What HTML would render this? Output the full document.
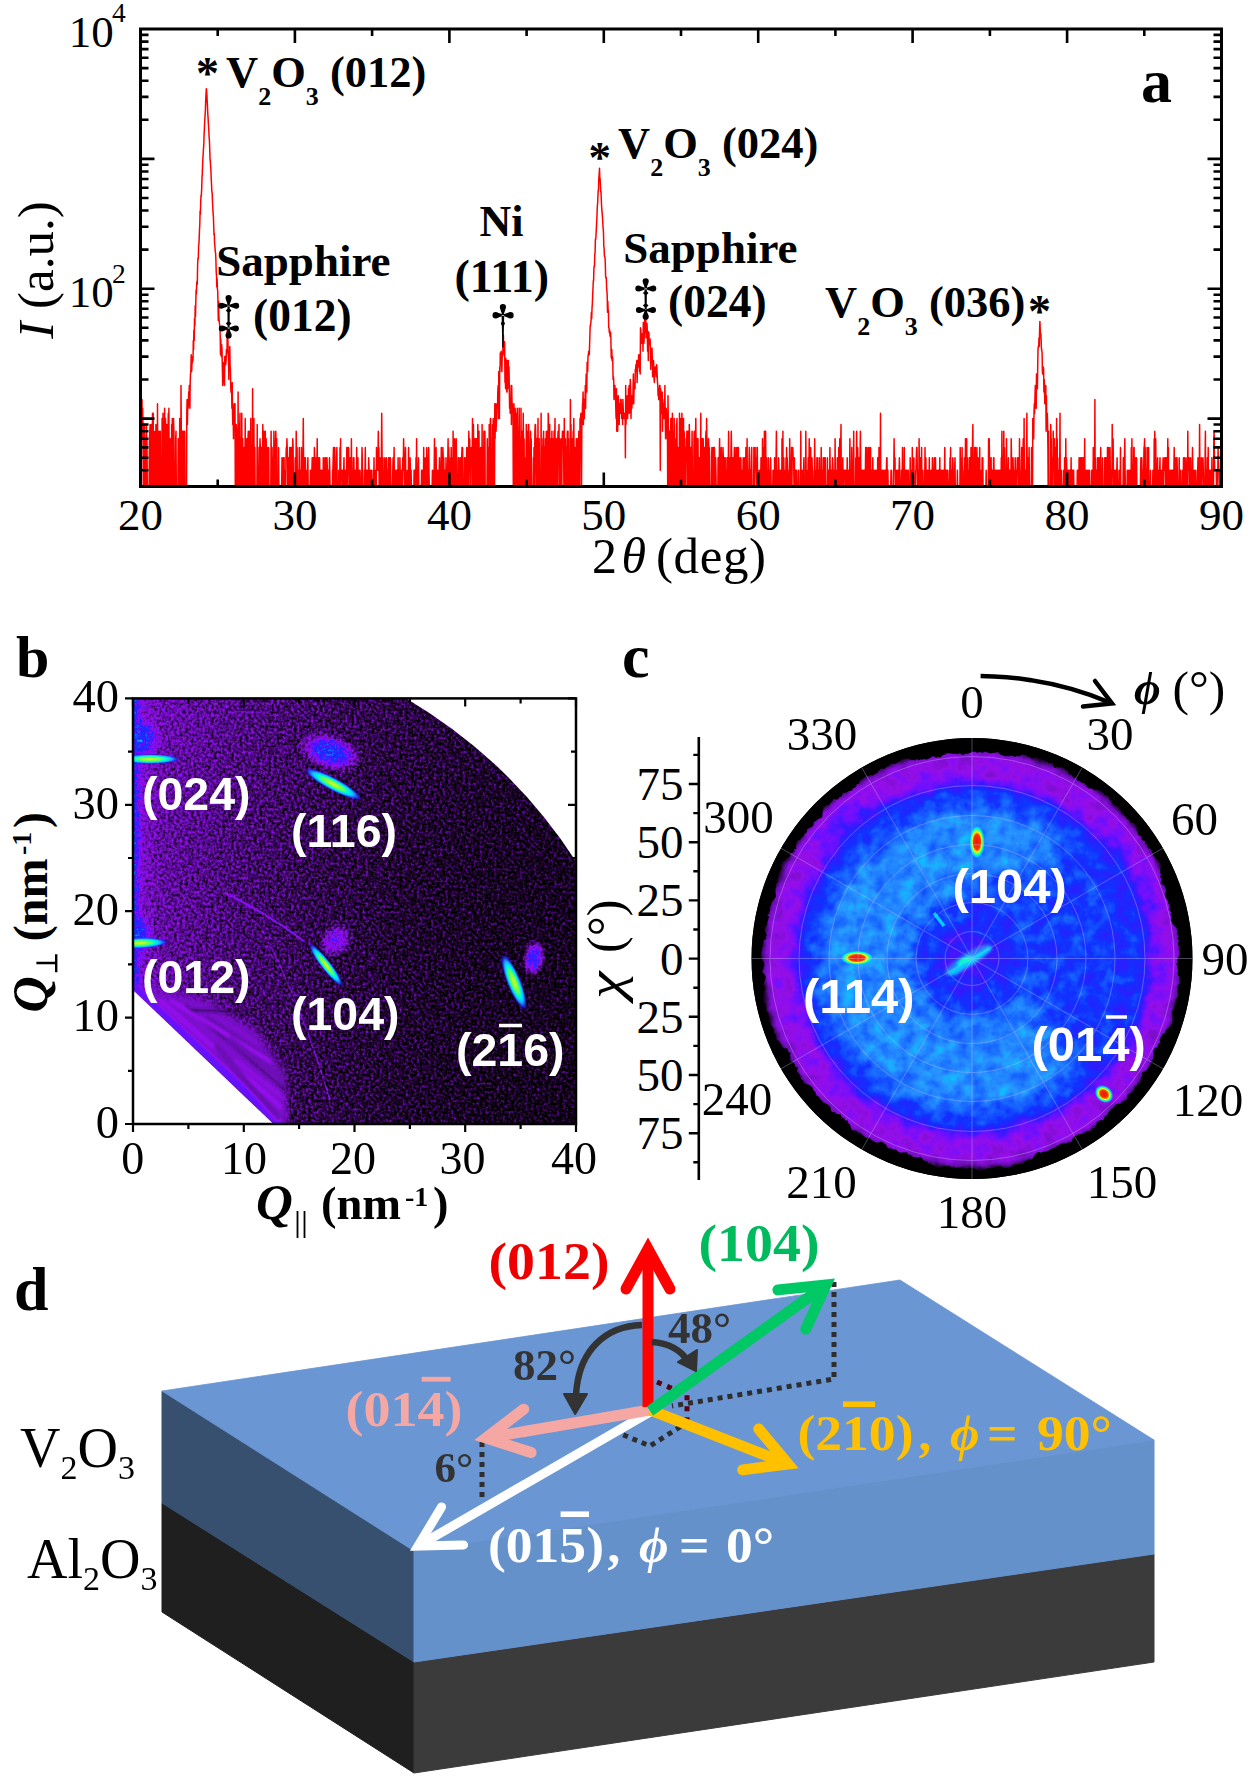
<!DOCTYPE html>
<html><head><meta charset="utf-8"><style>
html,body{margin:0;padding:0;background:#fff;overflow:hidden;width:1250px;height:1781px;}
svg{display:block;}
</style></head><body>
<svg width="1250" height="1781" viewBox="0 0 1250 1781">
<rect width="1250" height="1781" fill="#fff"/>
<defs><clipPath id="ca"><rect x="140.5" y="29.0" width="1081.0" height="457.5"/></clipPath></defs>
<polyline clip-path="url(#ca)" fill="none" stroke="#ff0000" stroke-width="1.5" stroke-linejoin="round" points="140.5,431.2 140.8,491.5 141.1,431.2 141.4,431.2 141.7,438.7 142.0,399.6 142.4,438.7 142.7,408.3 143.0,431.2 143.3,491.5 143.6,491.5 143.9,431.2 144.2,424.5 144.5,424.5 144.8,491.5 145.1,438.7 145.4,491.5 145.8,491.5 146.1,491.5 146.4,424.5 146.7,438.7 147.0,438.7 147.3,491.5 147.6,491.5 147.9,491.5 148.2,491.5 148.5,491.5 148.8,491.5 149.1,491.5 149.5,438.7 149.8,431.2 150.1,424.5 150.4,491.5 150.7,491.5 151.0,491.5 151.3,424.5 151.6,491.5 151.9,424.5 152.2,491.5 152.5,413.2 152.9,491.5 153.2,413.2 153.5,491.5 153.8,431.2 154.1,491.5 154.4,491.5 154.7,491.5 155.0,491.5 155.3,431.2 155.6,491.5 155.9,424.5 156.3,431.2 156.6,491.5 156.9,491.5 157.2,491.5 157.5,403.8 157.8,491.5 158.1,491.5 158.4,491.5 158.7,491.5 159.0,431.2 159.3,491.5 159.6,491.5 160.0,491.5 160.3,431.2 160.6,491.5 160.9,491.5 161.2,491.5 161.5,491.5 161.8,491.5 162.1,418.6 162.4,424.5 162.7,491.5 163.0,413.2 163.4,491.5 163.7,491.5 164.0,438.7 164.3,491.5 164.6,408.3 164.9,491.5 165.2,491.5 165.5,418.6 165.8,438.7 166.1,491.5 166.4,491.5 166.8,424.5 167.1,491.5 167.4,438.7 167.7,491.5 168.0,431.2 168.3,413.2 168.6,438.7 168.9,408.3 169.2,491.5 169.5,491.5 169.8,491.5 170.2,438.7 170.5,491.5 170.8,491.5 171.1,438.7 171.4,491.5 171.7,424.5 172.0,491.5 172.3,418.6 172.6,424.5 172.9,491.5 173.2,438.7 173.5,418.6 173.9,431.2 174.2,491.5 174.5,491.5 174.8,491.5 175.1,491.5 175.4,491.5 175.7,438.7 176.0,431.2 176.3,491.5 176.6,491.5 176.9,491.5 177.3,491.5 177.6,491.5 177.9,491.5 178.2,438.7 178.5,491.5 178.8,438.7 179.1,491.5 179.4,491.5 179.7,418.6 180.0,491.5 180.3,491.5 180.7,491.5 181.0,385.4 181.3,431.2 181.6,491.5 181.9,491.5 182.2,431.2 182.5,431.2 182.8,491.5 183.1,491.5 183.4,491.5 183.7,431.2 184.0,431.2 184.4,491.5 184.7,431.2 185.0,491.5 185.3,491.5 185.6,491.5 185.9,491.5 186.2,491.5 186.5,491.5 186.8,413.2 187.1,399.6 187.4,424.5 187.8,403.8 188.1,408.3 188.4,403.8 188.7,392.1 189.0,399.6 189.3,385.4 189.6,403.8 189.9,408.3 190.2,382.4 190.5,374.1 190.8,371.6 191.2,354.8 191.5,371.6 191.8,369.2 192.1,358.5 192.4,362.6 192.7,356.6 193.0,360.5 193.3,340.4 193.6,349.6 193.9,330.1 194.2,340.4 194.5,318.5 194.9,325.6 195.2,305.7 195.5,316.6 195.8,302.0 196.1,289.9 196.4,294.0 196.7,283.9 197.0,281.3 197.3,284.4 197.6,265.5 197.9,258.5 198.3,258.8 198.6,245.8 198.9,244.0 199.2,238.4 199.5,229.7 199.8,224.6 200.1,211.0 200.4,214.2 200.7,202.1 201.0,195.6 201.3,195.9 201.7,188.6 202.0,177.8 202.3,173.4 202.6,165.3 202.9,158.0 203.2,153.8 203.5,148.4 203.8,144.4 204.1,134.0 204.4,129.0 204.7,121.1 205.1,114.9 205.4,110.1 205.7,100.6 206.0,94.9 206.3,88.7 206.6,90.2 206.9,95.4 207.2,101.6 207.5,107.3 207.8,114.1 208.1,118.2 208.4,124.2 208.8,130.0 209.1,137.1 209.4,140.5 209.7,147.8 210.0,158.3 210.3,160.9 210.6,165.6 210.9,169.9 211.2,177.9 211.5,183.9 211.8,190.6 212.2,193.6 212.5,201.7 212.8,207.9 213.1,213.7 213.4,216.6 213.7,225.5 214.0,234.8 214.3,233.6 214.6,243.5 214.9,246.1 215.2,250.8 215.6,253.4 215.9,259.8 216.2,271.8 216.5,275.3 216.8,287.1 217.1,278.4 217.4,289.3 217.7,290.4 218.0,303.5 218.3,320.4 218.6,301.3 218.9,316.6 219.3,322.4 219.6,324.5 219.9,327.8 220.2,335.0 220.5,354.8 220.8,339.0 221.1,353.0 221.4,356.6 221.7,344.8 222.0,349.6 222.3,364.7 222.7,385.4 223.0,366.9 223.3,362.6 223.6,371.6 223.9,382.4 224.2,379.5 224.5,385.4 224.8,356.6 225.1,360.5 225.4,356.6 225.7,364.7 226.1,360.5 226.4,349.6 226.7,353.0 227.0,351.3 227.3,329.0 227.6,340.4 227.9,339.0 228.2,354.8 228.5,358.5 228.8,379.5 229.1,356.6 229.5,356.6 229.8,346.4 230.1,366.9 230.4,369.2 230.7,385.4 231.0,392.1 231.3,392.1 231.6,388.7 231.9,408.3 232.2,382.4 232.5,413.2 232.8,424.5 233.2,418.6 233.5,438.7 233.8,408.3 234.1,403.8 234.4,418.6 234.7,418.6 235.0,403.8 235.3,491.5 235.6,491.5 235.9,491.5 236.2,424.5 236.6,431.2 236.9,491.5 237.2,431.2 237.5,491.5 237.8,491.5 238.1,392.1 238.4,491.5 238.7,491.5 239.0,491.5 239.3,424.5 239.6,431.2 240.0,413.2 240.3,491.5 240.6,491.5 240.9,438.7 241.2,491.5 241.5,491.5 241.8,413.2 242.1,491.5 242.4,447.4 242.7,438.7 243.0,491.5 243.3,491.5 243.7,491.5 244.0,447.4 244.3,491.5 244.6,491.5 244.9,491.5 245.2,418.6 245.5,491.5 245.8,491.5 246.1,457.7 246.4,491.5 246.7,438.7 247.1,438.7 247.4,491.5 247.7,491.5 248.0,438.7 248.3,431.2 248.6,491.5 248.9,491.5 249.2,491.5 249.5,431.2 249.8,491.5 250.1,491.5 250.5,491.5 250.8,418.6 251.1,491.5 251.4,491.5 251.7,447.4 252.0,491.5 252.3,491.5 252.6,388.7 252.9,491.5 253.2,491.5 253.5,438.7 253.9,418.6 254.2,491.5 254.5,491.5 254.8,447.4 255.1,491.5 255.4,491.5 255.7,491.5 256.0,491.5 256.3,491.5 256.6,491.5 256.9,491.5 257.2,424.5 257.6,491.5 257.9,491.5 258.2,491.5 258.5,491.5 258.8,491.5 259.1,447.4 259.4,491.5 259.7,457.7 260.0,438.7 260.3,447.4 260.6,447.4 261.0,491.5 261.3,447.4 261.6,491.5 261.9,491.5 262.2,447.4 262.5,491.5 262.8,424.5 263.1,447.4 263.4,431.2 263.7,491.5 264.0,431.2 264.4,491.5 264.7,491.5 265.0,438.7 265.3,431.2 265.6,491.5 265.9,491.5 266.2,438.7 266.5,491.5 266.8,491.5 267.1,491.5 267.4,447.4 267.7,457.7 268.1,491.5 268.4,491.5 268.7,447.4 269.0,491.5 269.3,491.5 269.6,491.5 269.9,491.5 270.2,491.5 270.5,491.5 270.8,491.5 271.1,431.2 271.5,491.5 271.8,491.5 272.1,447.4 272.4,491.5 272.7,457.7 273.0,491.5 273.3,457.7 273.6,491.5 273.9,431.2 274.2,447.4 274.5,447.4 274.9,491.5 275.2,447.4 275.5,447.4 275.8,431.2 276.1,447.4 276.4,491.5 276.7,438.7 277.0,491.5 277.3,491.5 277.6,491.5 277.9,491.5 278.3,491.5 278.6,447.4 278.9,491.5 279.2,491.5 279.5,491.5 279.8,491.5 280.1,491.5 280.4,491.5 280.7,491.5 281.0,491.5 281.3,491.5 281.6,491.5 282.0,457.7 282.3,470.3 282.6,491.5 282.9,491.5 283.2,457.7 283.5,491.5 283.8,491.5 284.1,457.7 284.4,491.5 284.7,491.5 285.0,491.5 285.4,470.3 285.7,491.5 286.0,457.7 286.3,447.4 286.6,457.7 286.9,438.7 287.2,447.4 287.5,457.7 287.8,491.5 288.1,491.5 288.4,457.7 288.8,491.5 289.1,491.5 289.4,491.5 289.7,447.4 290.0,470.3 290.3,447.4 290.6,491.5 290.9,491.5 291.2,491.5 291.5,447.4 291.8,491.5 292.1,491.5 292.5,457.7 292.8,438.7 293.1,447.4 293.4,491.5 293.7,491.5 294.0,491.5 294.3,491.5 294.6,491.5 294.9,491.5 295.2,457.7 295.5,491.5 295.9,491.5 296.2,431.2 296.5,457.7 296.8,457.7 297.1,447.4 297.4,491.5 297.7,491.5 298.0,491.5 298.3,491.5 298.6,470.3 298.9,486.5 299.3,447.4 299.6,491.5 299.9,491.5 300.2,470.3 300.5,470.3 300.8,491.5 301.1,491.5 301.4,447.4 301.7,491.5 302.0,491.5 302.3,491.5 302.6,491.5 303.0,447.4 303.3,418.6 303.6,470.3 303.9,470.3 304.2,491.5 304.5,457.7 304.8,470.3 305.1,470.3 305.4,457.7 305.7,491.5 306.0,491.5 306.4,491.5 306.7,491.5 307.0,470.3 307.3,491.5 307.6,470.3 307.9,457.7 308.2,491.5 308.5,491.5 308.8,491.5 309.1,491.5 309.4,491.5 309.8,491.5 310.1,491.5 310.4,470.3 310.7,470.3 311.0,491.5 311.3,470.3 311.6,491.5 311.9,470.3 312.2,457.7 312.5,457.7 312.8,491.5 313.2,491.5 313.5,457.7 313.8,470.3 314.1,491.5 314.4,447.4 314.7,457.7 315.0,457.7 315.3,491.5 315.6,457.7 315.9,491.5 316.2,491.5 316.5,491.5 316.9,470.3 317.2,438.7 317.5,491.5 317.8,491.5 318.1,470.3 318.4,491.5 318.7,457.7 319.0,457.7 319.3,491.5 319.6,457.7 319.9,491.5 320.3,470.3 320.6,470.3 320.9,470.3 321.2,491.5 321.5,470.3 321.8,491.5 322.1,491.5 322.4,470.3 322.7,470.3 323.0,491.5 323.3,457.7 323.7,491.5 324.0,491.5 324.3,491.5 324.6,470.3 324.9,457.7 325.2,491.5 325.5,491.5 325.8,457.7 326.1,491.5 326.4,491.5 326.7,470.3 327.0,457.7 327.4,470.3 327.7,491.5 328.0,491.5 328.3,470.3 328.6,491.5 328.9,491.5 329.2,491.5 329.5,457.7 329.8,470.3 330.1,491.5 330.4,491.5 330.8,491.5 331.1,491.5 331.4,491.5 331.7,491.5 332.0,491.5 332.3,491.5 332.6,470.3 332.9,470.3 333.2,457.7 333.5,447.4 333.8,491.5 334.2,470.3 334.5,491.5 334.8,447.4 335.1,470.3 335.4,491.5 335.7,491.5 336.0,491.5 336.3,491.5 336.6,457.7 336.9,447.4 337.2,491.5 337.6,491.5 337.9,491.5 338.2,491.5 338.5,491.5 338.8,470.3 339.1,470.3 339.4,470.3 339.7,491.5 340.0,447.4 340.3,491.5 340.6,438.7 340.9,491.5 341.3,470.3 341.6,470.3 341.9,470.3 342.2,470.3 342.5,470.3 342.8,491.5 343.1,470.3 343.4,491.5 343.7,470.3 344.0,457.7 344.3,491.5 344.7,470.3 345.0,491.5 345.3,491.5 345.6,470.3 345.9,491.5 346.2,470.3 346.5,491.5 346.8,447.4 347.1,491.5 347.4,470.3 347.7,447.4 348.1,470.3 348.4,470.3 348.7,447.4 349.0,491.5 349.3,470.3 349.6,470.3 349.9,457.7 350.2,457.7 350.5,491.5 350.8,491.5 351.1,491.5 351.4,438.7 351.8,491.5 352.1,470.3 352.4,491.5 352.7,491.5 353.0,491.5 353.3,457.7 353.6,491.5 353.9,457.7 354.2,491.5 354.5,470.3 354.8,491.5 355.2,491.5 355.5,470.3 355.8,491.5 356.1,486.5 356.4,491.5 356.7,447.4 357.0,491.5 357.3,491.5 357.6,491.5 357.9,457.7 358.2,486.5 358.6,491.5 358.9,491.5 359.2,491.5 359.5,470.3 359.8,491.5 360.1,470.3 360.4,491.5 360.7,491.5 361.0,491.5 361.3,491.5 361.6,491.5 362.0,447.4 362.3,457.7 362.6,491.5 362.9,491.5 363.2,491.5 363.5,491.5 363.8,486.5 364.1,491.5 364.4,470.3 364.7,491.5 365.0,470.3 365.3,447.4 365.7,491.5 366.0,470.3 366.3,470.3 366.6,491.5 366.9,470.3 367.2,486.5 367.5,470.3 367.8,486.5 368.1,491.5 368.4,491.5 368.7,457.7 369.1,470.3 369.4,491.5 369.7,491.5 370.0,491.5 370.3,491.5 370.6,470.3 370.9,470.3 371.2,491.5 371.5,470.3 371.8,491.5 372.1,491.5 372.5,491.5 372.8,491.5 373.1,491.5 373.4,470.3 373.7,491.5 374.0,457.7 374.3,491.5 374.6,491.5 374.9,491.5 375.2,491.5 375.5,470.3 375.8,470.3 376.2,491.5 376.5,447.4 376.8,470.3 377.1,470.3 377.4,470.3 377.7,470.3 378.0,457.7 378.3,431.2 378.6,470.3 378.9,447.4 379.2,491.5 379.6,486.5 379.9,457.7 380.2,491.5 380.5,491.5 380.8,491.5 381.1,491.5 381.4,457.7 381.7,413.2 382.0,447.4 382.3,491.5 382.6,491.5 383.0,457.7 383.3,486.5 383.6,491.5 383.9,491.5 384.2,491.5 384.5,491.5 384.8,457.7 385.1,470.3 385.4,491.5 385.7,470.3 386.0,491.5 386.4,457.7 386.7,470.3 387.0,491.5 387.3,470.3 387.6,470.3 387.9,491.5 388.2,491.5 388.5,457.7 388.8,491.5 389.1,491.5 389.4,491.5 389.7,457.7 390.1,491.5 390.4,457.7 390.7,470.3 391.0,491.5 391.3,486.5 391.6,491.5 391.9,491.5 392.2,491.5 392.5,491.5 392.8,470.3 393.1,457.7 393.5,491.5 393.8,470.3 394.1,447.4 394.4,491.5 394.7,491.5 395.0,470.3 395.3,491.5 395.6,491.5 395.9,470.3 396.2,470.3 396.5,491.5 396.9,491.5 397.2,470.3 397.5,491.5 397.8,491.5 398.1,457.7 398.4,491.5 398.7,491.5 399.0,491.5 399.3,470.3 399.6,491.5 399.9,457.7 400.2,470.3 400.6,470.3 400.9,491.5 401.2,491.5 401.5,470.3 401.8,491.5 402.1,470.3 402.4,491.5 402.7,457.7 403.0,470.3 403.3,470.3 403.6,438.7 404.0,457.7 404.3,470.3 404.6,491.5 404.9,491.5 405.2,470.3 405.5,447.4 405.8,491.5 406.1,470.3 406.4,491.5 406.7,491.5 407.0,491.5 407.4,491.5 407.7,470.3 408.0,491.5 408.3,491.5 408.6,447.4 408.9,491.5 409.2,491.5 409.5,491.5 409.8,491.5 410.1,457.7 410.4,470.3 410.7,491.5 411.1,470.3 411.4,491.5 411.7,491.5 412.0,491.5 412.3,491.5 412.6,491.5 412.9,491.5 413.2,491.5 413.5,491.5 413.8,491.5 414.1,470.3 414.5,491.5 414.8,470.3 415.1,470.3 415.4,491.5 415.7,491.5 416.0,457.7 416.3,491.5 416.6,438.7 416.9,491.5 417.2,491.5 417.5,491.5 417.9,470.3 418.2,470.3 418.5,457.7 418.8,491.5 419.1,491.5 419.4,491.5 419.7,491.5 420.0,491.5 420.3,491.5 420.6,491.5 420.9,491.5 421.3,491.5 421.6,470.3 421.9,491.5 422.2,491.5 422.5,470.3 422.8,491.5 423.1,491.5 423.4,491.5 423.7,447.4 424.0,491.5 424.3,470.3 424.6,470.3 425.0,491.5 425.3,457.7 425.6,470.3 425.9,491.5 426.2,491.5 426.5,491.5 426.8,447.4 427.1,491.5 427.4,491.5 427.7,491.5 428.0,470.3 428.4,457.7 428.7,447.4 429.0,470.3 429.3,491.5 429.6,491.5 429.9,491.5 430.2,491.5 430.5,486.5 430.8,491.5 431.1,491.5 431.4,491.5 431.8,491.5 432.1,491.5 432.4,470.3 432.7,491.5 433.0,491.5 433.3,491.5 433.6,491.5 433.9,470.3 434.2,470.3 434.5,438.7 434.8,491.5 435.1,491.5 435.5,457.7 435.8,470.3 436.1,447.4 436.4,491.5 436.7,491.5 437.0,491.5 437.3,491.5 437.6,470.3 437.9,491.5 438.2,491.5 438.5,491.5 438.9,470.3 439.2,470.3 439.5,457.7 439.8,491.5 440.1,491.5 440.4,470.3 440.7,491.5 441.0,470.3 441.3,447.4 441.6,491.5 441.9,457.7 442.3,457.7 442.6,491.5 442.9,447.4 443.2,457.7 443.5,491.5 443.8,457.7 444.1,491.5 444.4,491.5 444.7,470.3 445.0,470.3 445.3,491.5 445.7,491.5 446.0,457.7 446.3,491.5 446.6,470.3 446.9,491.5 447.2,470.3 447.5,470.3 447.8,457.7 448.1,438.7 448.4,491.5 448.7,447.4 449.0,457.7 449.4,491.5 449.7,491.5 450.0,491.5 450.3,491.5 450.6,457.7 450.9,491.5 451.2,447.4 451.5,491.5 451.8,491.5 452.1,491.5 452.4,457.7 452.8,491.5 453.1,431.2 453.4,491.5 453.7,491.5 454.0,491.5 454.3,491.5 454.6,438.7 454.9,457.7 455.2,491.5 455.5,486.5 455.8,457.7 456.2,438.7 456.5,457.7 456.8,491.5 457.1,491.5 457.4,491.5 457.7,491.5 458.0,491.5 458.3,457.7 458.6,491.5 458.9,457.7 459.2,491.5 459.5,491.5 459.9,491.5 460.2,470.3 460.5,457.7 460.8,491.5 461.1,491.5 461.4,491.5 461.7,457.7 462.0,447.4 462.3,491.5 462.6,447.4 462.9,491.5 463.3,491.5 463.6,491.5 463.9,491.5 464.2,491.5 464.5,457.7 464.8,491.5 465.1,457.7 465.4,491.5 465.7,470.3 466.0,491.5 466.3,491.5 466.7,447.4 467.0,457.7 467.3,457.7 467.6,470.3 467.9,491.5 468.2,447.4 468.5,491.5 468.8,431.2 469.1,447.4 469.4,457.7 469.7,438.7 470.1,470.3 470.4,491.5 470.7,491.5 471.0,491.5 471.3,447.4 471.6,457.7 471.9,457.7 472.2,457.7 472.5,418.6 472.8,491.5 473.1,491.5 473.4,424.5 473.8,470.3 474.1,491.5 474.4,438.7 474.7,491.5 475.0,491.5 475.3,491.5 475.6,438.7 475.9,457.7 476.2,491.5 476.5,438.7 476.8,491.5 477.2,457.7 477.5,491.5 477.8,424.5 478.1,491.5 478.4,491.5 478.7,491.5 479.0,431.2 479.3,491.5 479.6,491.5 479.9,491.5 480.2,491.5 480.6,447.4 480.9,491.5 481.2,457.7 481.5,491.5 481.8,491.5 482.1,424.5 482.4,491.5 482.7,447.4 483.0,447.4 483.3,447.4 483.6,491.5 483.9,431.2 484.3,431.2 484.6,491.5 484.9,431.2 485.2,491.5 485.5,491.5 485.8,491.5 486.1,491.5 486.4,491.5 486.7,491.5 487.0,491.5 487.3,438.7 487.7,491.5 488.0,491.5 488.3,491.5 488.6,447.4 488.9,491.5 489.2,424.5 489.5,438.7 489.8,491.5 490.1,491.5 490.4,418.6 490.7,418.6 491.1,491.5 491.4,491.5 491.7,491.5 492.0,491.5 492.3,457.7 492.6,424.5 492.9,491.5 493.2,418.6 493.5,491.5 493.8,438.7 494.1,491.5 494.5,491.5 494.8,403.8 495.1,438.7 495.4,403.8 495.7,413.2 496.0,431.2 496.3,424.5 496.6,418.6 496.9,403.8 497.2,403.8 497.5,408.3 497.8,392.1 498.2,385.4 498.5,418.6 498.8,371.6 499.1,413.2 499.4,418.6 499.7,366.9 500.0,371.6 500.3,353.0 500.6,358.5 500.9,358.5 501.2,351.3 501.6,362.6 501.9,371.6 502.2,354.8 502.5,356.6 502.8,353.0 503.1,337.7 503.4,335.0 503.7,351.3 504.0,351.3 504.3,354.8 504.6,341.8 505.0,382.4 505.3,376.8 505.6,388.7 505.9,358.5 506.2,369.2 506.5,374.1 506.8,392.1 507.1,392.1 507.4,360.5 507.7,388.7 508.0,376.8 508.3,360.5 508.7,374.1 509.0,366.9 509.3,388.7 509.6,408.3 509.9,403.8 510.2,413.2 510.5,399.6 510.8,413.2 511.1,385.4 511.4,424.5 511.7,385.4 512.1,408.3 512.4,403.8 512.7,408.3 513.0,413.2 513.3,491.5 513.6,424.5 513.9,403.8 514.2,491.5 514.5,491.5 514.8,491.5 515.1,408.3 515.5,418.6 515.8,491.5 516.1,413.2 516.4,438.7 516.7,491.5 517.0,491.5 517.3,408.3 517.6,491.5 517.9,491.5 518.2,491.5 518.5,491.5 518.8,438.7 519.2,408.3 519.5,491.5 519.8,491.5 520.1,438.7 520.4,491.5 520.7,491.5 521.0,408.3 521.3,491.5 521.6,431.2 521.9,431.2 522.2,491.5 522.6,491.5 522.9,491.5 523.2,413.2 523.5,438.7 523.8,491.5 524.1,438.7 524.4,491.5 524.7,457.7 525.0,491.5 525.3,491.5 525.6,491.5 526.0,491.5 526.3,424.5 526.6,424.5 526.9,447.4 527.2,491.5 527.5,491.5 527.8,491.5 528.1,431.2 528.4,491.5 528.7,424.5 529.0,491.5 529.4,491.5 529.7,491.5 530.0,491.5 530.3,447.4 530.6,431.2 530.9,491.5 531.2,438.7 531.5,491.5 531.8,491.5 532.1,491.5 532.4,491.5 532.7,491.5 533.1,491.5 533.4,457.7 533.7,491.5 534.0,447.4 534.3,491.5 534.6,457.7 534.9,431.2 535.2,424.5 535.5,424.5 535.8,438.7 536.1,491.5 536.5,457.7 536.8,438.7 537.1,491.5 537.4,491.5 537.7,491.5 538.0,418.6 538.3,491.5 538.6,491.5 538.9,438.7 539.2,438.7 539.5,491.5 539.9,491.5 540.2,491.5 540.5,491.5 540.8,491.5 541.1,413.2 541.4,491.5 541.7,491.5 542.0,447.4 542.3,491.5 542.6,491.5 542.9,438.7 543.2,447.4 543.6,431.2 543.9,491.5 544.2,491.5 544.5,447.4 544.8,491.5 545.1,491.5 545.4,438.7 545.7,438.7 546.0,457.7 546.3,431.2 546.6,491.5 547.0,491.5 547.3,447.4 547.6,431.2 547.9,491.5 548.2,413.2 548.5,418.6 548.8,491.5 549.1,424.5 549.4,491.5 549.7,424.5 550.0,491.5 550.4,447.4 550.7,491.5 551.0,438.7 551.3,491.5 551.6,491.5 551.9,431.2 552.2,491.5 552.5,438.7 552.8,447.4 553.1,438.7 553.4,438.7 553.8,491.5 554.1,431.2 554.4,447.4 554.7,447.4 555.0,418.6 555.3,491.5 555.6,491.5 555.9,486.5 556.2,491.5 556.5,438.7 556.8,491.5 557.1,491.5 557.5,491.5 557.8,438.7 558.1,431.2 558.4,431.2 558.7,438.7 559.0,424.5 559.3,491.5 559.6,491.5 559.9,438.7 560.2,491.5 560.5,491.5 560.9,491.5 561.2,447.4 561.5,438.7 561.8,491.5 562.1,447.4 562.4,431.2 562.7,447.4 563.0,438.7 563.3,431.2 563.6,438.7 563.9,491.5 564.3,418.6 564.6,491.5 564.9,491.5 565.2,491.5 565.5,438.7 565.8,491.5 566.1,447.4 566.4,447.4 566.7,491.5 567.0,491.5 567.3,431.2 567.6,491.5 568.0,431.2 568.3,491.5 568.6,438.7 568.9,491.5 569.2,457.7 569.5,491.5 569.8,491.5 570.1,491.5 570.4,399.6 570.7,491.5 571.0,424.5 571.4,491.5 571.7,438.7 572.0,447.4 572.3,438.7 572.6,491.5 572.9,491.5 573.2,431.2 573.5,438.7 573.8,418.6 574.1,457.7 574.4,491.5 574.8,491.5 575.1,447.4 575.4,457.7 575.7,491.5 576.0,491.5 576.3,438.7 576.6,491.5 576.9,491.5 577.2,491.5 577.5,438.7 577.8,491.5 578.2,447.4 578.5,491.5 578.8,431.2 579.1,491.5 579.4,491.5 579.7,491.5 580.0,418.6 580.3,438.7 580.6,418.6 580.9,413.2 581.2,424.5 581.5,491.5 581.9,413.2 582.2,424.5 582.5,403.8 582.8,403.8 583.1,392.1 583.4,424.5 583.7,403.8 584.0,399.6 584.3,418.6 584.6,403.8 584.9,408.3 585.3,385.4 585.6,408.3 585.9,385.4 586.2,374.1 586.5,374.1 586.8,392.1 587.1,362.6 587.4,364.7 587.7,371.6 588.0,356.6 588.3,354.8 588.7,351.3 589.0,351.3 589.3,354.8 589.6,344.8 589.9,335.0 590.2,325.6 590.5,325.6 590.8,323.5 591.1,319.5 591.4,312.2 591.7,318.5 592.0,308.8 592.4,302.7 592.7,294.0 593.0,288.2 593.3,280.8 593.6,280.8 593.9,268.6 594.2,265.9 594.5,266.2 594.8,253.7 595.1,252.8 595.4,238.9 595.8,239.1 596.1,233.3 596.4,227.3 596.7,221.7 597.0,215.4 597.3,205.9 597.6,204.2 597.9,196.6 598.2,190.6 598.5,189.5 598.8,178.6 599.2,174.1 599.5,168.3 599.8,176.9 600.1,178.9 600.4,184.7 600.7,192.0 601.0,191.5 601.3,199.7 601.6,206.3 601.9,210.7 602.2,213.6 602.6,218.9 602.9,225.3 603.2,228.7 603.5,232.9 603.8,246.6 604.1,248.2 604.4,256.2 604.7,256.8 605.0,257.2 605.3,263.3 605.6,276.1 605.9,278.0 606.3,277.5 606.6,287.1 606.9,291.0 607.2,295.3 607.5,312.2 607.8,301.3 608.1,309.7 608.4,310.5 608.7,327.8 609.0,327.8 609.3,332.5 609.7,330.1 610.0,336.3 610.3,336.3 610.6,332.5 610.9,339.0 611.2,356.6 611.5,358.5 611.8,349.6 612.1,360.5 612.4,356.6 612.7,358.5 613.1,379.5 613.4,376.8 613.7,379.5 614.0,399.6 614.3,395.7 614.6,392.1 614.9,385.4 615.2,395.7 615.5,388.7 615.8,408.3 616.1,418.6 616.4,388.7 616.8,431.2 617.1,408.3 617.4,399.6 617.7,431.2 618.0,395.7 618.3,395.7 618.6,418.6 618.9,403.8 619.2,424.5 619.5,403.8 619.8,408.3 620.2,413.2 620.5,399.6 620.8,413.2 621.1,399.6 621.4,408.3 621.7,418.6 622.0,413.2 622.3,408.3 622.6,424.5 622.9,399.6 623.2,408.3 623.6,418.6 623.9,418.6 624.2,413.2 624.5,418.6 624.8,418.6 625.1,413.2 625.4,457.7 625.7,385.4 626.0,424.5 626.3,413.2 626.6,418.6 626.9,413.2 627.3,395.7 627.6,418.6 627.9,408.3 628.2,413.2 628.5,388.7 628.8,399.6 629.1,385.4 629.4,413.2 629.7,388.7 630.0,399.6 630.3,379.5 630.7,392.1 631.0,418.6 631.3,403.8 631.6,395.7 631.9,408.3 632.2,395.7 632.5,395.7 632.8,403.8 633.1,385.4 633.4,374.1 633.7,403.8 634.1,385.4 634.4,388.7 634.7,382.4 635.0,388.7 635.3,369.2 635.6,371.6 635.9,364.7 636.2,371.6 636.5,364.7 636.8,360.5 637.1,382.4 637.5,366.9 637.8,360.5 638.1,366.9 638.4,360.5 638.7,354.8 639.0,362.6 639.3,358.5 639.6,371.6 639.9,354.8 640.2,374.1 640.5,327.8 640.8,330.1 641.2,336.3 641.5,343.3 641.8,343.3 642.1,335.0 642.4,333.8 642.7,335.0 643.0,351.3 643.3,322.4 643.6,333.8 643.9,343.3 644.2,337.7 644.6,322.4 644.9,314.8 645.2,332.5 645.5,312.2 645.8,314.8 646.1,337.7 646.4,332.5 646.7,325.6 647.0,323.5 647.3,331.3 647.6,351.3 648.0,331.3 648.3,360.5 648.6,336.3 648.9,332.5 649.2,344.8 649.5,340.4 649.8,343.3 650.1,339.0 650.4,349.6 650.7,369.2 651.0,356.6 651.3,360.5 651.7,353.0 652.0,347.9 652.3,358.5 652.6,376.8 652.9,374.1 653.2,369.2 653.5,360.5 653.8,366.9 654.1,379.5 654.4,382.4 654.7,369.2 655.1,369.2 655.4,366.9 655.7,366.9 656.0,371.6 656.3,376.8 656.6,364.7 656.9,366.9 657.2,376.8 657.5,382.4 657.8,385.4 658.1,395.7 658.5,395.7 658.8,399.6 659.1,388.7 659.4,388.7 659.7,385.4 660.0,385.4 660.3,470.3 660.6,388.7 660.9,392.1 661.2,399.6 661.5,413.2 661.9,403.8 662.2,392.1 662.5,431.2 662.8,399.6 663.1,408.3 663.4,418.6 663.7,403.8 664.0,408.3 664.3,408.3 664.6,418.6 664.9,385.4 665.2,418.6 665.6,438.7 665.9,438.7 666.2,408.3 666.5,413.2 666.8,418.6 667.1,424.5 667.4,413.2 667.7,491.5 668.0,395.7 668.3,424.5 668.6,431.2 669.0,491.5 669.3,491.5 669.6,491.5 669.9,431.2 670.2,491.5 670.5,491.5 670.8,418.6 671.1,424.5 671.4,418.6 671.7,491.5 672.0,491.5 672.4,413.2 672.7,491.5 673.0,491.5 673.3,491.5 673.6,431.2 673.9,491.5 674.2,418.6 674.5,491.5 674.8,438.7 675.1,491.5 675.4,491.5 675.7,491.5 676.1,491.5 676.4,424.5 676.7,424.5 677.0,418.6 677.3,491.5 677.6,491.5 677.9,447.4 678.2,491.5 678.5,491.5 678.8,447.4 679.1,491.5 679.5,413.2 679.8,491.5 680.1,431.2 680.4,491.5 680.7,418.6 681.0,491.5 681.3,431.2 681.6,491.5 681.9,413.2 682.2,431.2 682.5,491.5 682.9,491.5 683.2,491.5 683.5,418.6 683.8,491.5 684.1,431.2 684.4,438.7 684.7,491.5 685.0,491.5 685.3,447.4 685.6,447.4 685.9,491.5 686.3,438.7 686.6,447.4 686.9,431.2 687.2,447.4 687.5,431.2 687.8,491.5 688.1,438.7 688.4,431.2 688.7,438.7 689.0,491.5 689.3,424.5 689.6,438.7 690.0,491.5 690.3,491.5 690.6,447.4 690.9,491.5 691.2,457.7 691.5,491.5 691.8,457.7 692.1,431.2 692.4,491.5 692.7,491.5 693.0,491.5 693.4,491.5 693.7,491.5 694.0,438.7 694.3,431.2 694.6,438.7 694.9,491.5 695.2,491.5 695.5,438.7 695.8,418.6 696.1,447.4 696.4,447.4 696.8,491.5 697.1,438.7 697.4,491.5 697.7,438.7 698.0,438.7 698.3,491.5 698.6,491.5 698.9,491.5 699.2,491.5 699.5,457.7 699.8,491.5 700.1,491.5 700.5,457.7 700.8,413.2 701.1,491.5 701.4,491.5 701.7,438.7 702.0,457.7 702.3,438.7 702.6,491.5 702.9,438.7 703.2,438.7 703.5,491.5 703.9,491.5 704.2,447.4 704.5,447.4 704.8,491.5 705.1,491.5 705.4,491.5 705.7,438.7 706.0,431.2 706.3,491.5 706.6,418.6 706.9,438.7 707.3,491.5 707.6,491.5 707.9,491.5 708.2,457.7 708.5,438.7 708.8,447.4 709.1,491.5 709.4,447.4 709.7,491.5 710.0,491.5 710.3,491.5 710.7,491.5 711.0,491.5 711.3,491.5 711.6,457.7 711.9,447.4 712.2,491.5 712.5,491.5 712.8,491.5 713.1,447.4 713.4,491.5 713.7,491.5 714.0,447.4 714.4,447.4 714.7,457.7 715.0,491.5 715.3,491.5 715.6,457.7 715.9,470.3 716.2,491.5 716.5,491.5 716.8,491.5 717.1,491.5 717.4,491.5 717.8,491.5 718.1,457.7 718.4,491.5 718.7,491.5 719.0,491.5 719.3,457.7 719.6,438.7 719.9,491.5 720.2,457.7 720.5,491.5 720.8,491.5 721.2,447.4 721.5,491.5 721.8,491.5 722.1,491.5 722.4,491.5 722.7,457.7 723.0,447.4 723.3,457.7 723.6,457.7 723.9,491.5 724.2,457.7 724.5,470.3 724.9,457.7 725.2,457.7 725.5,491.5 725.8,470.3 726.1,491.5 726.4,491.5 726.7,491.5 727.0,457.7 727.3,457.7 727.6,491.5 727.9,491.5 728.3,470.3 728.6,431.2 728.9,491.5 729.2,491.5 729.5,491.5 729.8,491.5 730.1,457.7 730.4,491.5 730.7,491.5 731.0,447.4 731.3,431.2 731.7,457.7 732.0,457.7 732.3,491.5 732.6,457.7 732.9,486.5 733.2,491.5 733.5,457.7 733.8,470.3 734.1,457.7 734.4,447.4 734.7,491.5 735.0,491.5 735.4,470.3 735.7,491.5 736.0,447.4 736.3,470.3 736.6,470.3 736.9,457.7 737.2,491.5 737.5,447.4 737.8,457.7 738.1,491.5 738.4,447.4 738.8,491.5 739.1,491.5 739.4,491.5 739.7,470.3 740.0,457.7 740.3,491.5 740.6,457.7 740.9,457.7 741.2,491.5 741.5,491.5 741.8,470.3 742.2,491.5 742.5,491.5 742.8,491.5 743.1,457.7 743.4,491.5 743.7,491.5 744.0,470.3 744.3,486.5 744.6,457.7 744.9,491.5 745.2,491.5 745.6,491.5 745.9,447.4 746.2,491.5 746.5,486.5 746.8,491.5 747.1,438.7 747.4,491.5 747.7,491.5 748.0,491.5 748.3,470.3 748.6,491.5 748.9,470.3 749.3,447.4 749.6,457.7 749.9,491.5 750.2,491.5 750.5,470.3 750.8,491.5 751.1,491.5 751.4,470.3 751.7,447.4 752.0,491.5 752.3,491.5 752.7,491.5 753.0,491.5 753.3,491.5 753.6,491.5 753.9,447.4 754.2,491.5 754.5,491.5 754.8,470.3 755.1,447.4 755.4,470.3 755.7,457.7 756.1,470.3 756.4,470.3 756.7,491.5 757.0,447.4 757.3,447.4 757.6,491.5 757.9,491.5 758.2,491.5 758.5,491.5 758.8,491.5 759.1,470.3 759.4,491.5 759.8,491.5 760.1,470.3 760.4,491.5 760.7,491.5 761.0,457.7 761.3,470.3 761.6,491.5 761.9,470.3 762.2,491.5 762.5,438.7 762.8,491.5 763.2,447.4 763.5,470.3 763.8,491.5 764.1,491.5 764.4,431.2 764.7,470.3 765.0,491.5 765.3,491.5 765.6,431.2 765.9,470.3 766.2,491.5 766.6,457.7 766.9,491.5 767.2,470.3 767.5,491.5 767.8,470.3 768.1,491.5 768.4,457.7 768.7,491.5 769.0,491.5 769.3,491.5 769.6,470.3 770.0,491.5 770.3,470.3 770.6,457.7 770.9,470.3 771.2,491.5 771.5,491.5 771.8,491.5 772.1,491.5 772.4,491.5 772.7,491.5 773.0,470.3 773.3,491.5 773.7,491.5 774.0,491.5 774.3,491.5 774.6,457.7 774.9,491.5 775.2,491.5 775.5,491.5 775.8,491.5 776.1,457.7 776.4,431.2 776.7,470.3 777.1,470.3 777.4,491.5 777.7,491.5 778.0,491.5 778.3,491.5 778.6,457.7 778.9,470.3 779.2,470.3 779.5,491.5 779.8,491.5 780.1,470.3 780.5,470.3 780.8,470.3 781.1,491.5 781.4,491.5 781.7,491.5 782.0,438.7 782.3,457.7 782.6,491.5 782.9,431.2 783.2,491.5 783.5,457.7 783.8,457.7 784.2,491.5 784.5,470.3 784.8,491.5 785.1,491.5 785.4,491.5 785.7,491.5 786.0,457.7 786.3,491.5 786.6,447.4 786.9,491.5 787.2,457.7 787.6,470.3 787.9,470.3 788.2,491.5 788.5,491.5 788.8,491.5 789.1,491.5 789.4,486.5 789.7,438.7 790.0,470.3 790.3,491.5 790.6,491.5 791.0,470.3 791.3,470.3 791.6,447.4 791.9,491.5 792.2,457.7 792.5,447.4 792.8,447.4 793.1,457.7 793.4,457.7 793.7,457.7 794.0,491.5 794.4,457.7 794.7,491.5 795.0,491.5 795.3,470.3 795.6,470.3 795.9,491.5 796.2,470.3 796.5,470.3 796.8,491.5 797.1,491.5 797.4,491.5 797.7,491.5 798.1,491.5 798.4,470.3 798.7,470.3 799.0,491.5 799.3,491.5 799.6,491.5 799.9,491.5 800.2,491.5 800.5,491.5 800.8,431.2 801.1,491.5 801.5,470.3 801.8,470.3 802.1,491.5 802.4,491.5 802.7,491.5 803.0,470.3 803.3,491.5 803.6,470.3 803.9,457.7 804.2,491.5 804.5,491.5 804.9,491.5 805.2,491.5 805.5,491.5 805.8,431.2 806.1,470.3 806.4,491.5 806.7,491.5 807.0,491.5 807.3,491.5 807.6,470.3 807.9,491.5 808.2,457.7 808.6,491.5 808.9,470.3 809.2,438.7 809.5,491.5 809.8,491.5 810.1,491.5 810.4,491.5 810.7,447.4 811.0,491.5 811.3,491.5 811.6,491.5 812.0,457.7 812.3,470.3 812.6,470.3 812.9,491.5 813.2,491.5 813.5,491.5 813.8,491.5 814.1,491.5 814.4,470.3 814.7,438.7 815.0,470.3 815.4,491.5 815.7,491.5 816.0,470.3 816.3,491.5 816.6,491.5 816.9,457.7 817.2,491.5 817.5,457.7 817.8,491.5 818.1,470.3 818.4,470.3 818.8,491.5 819.1,491.5 819.4,457.7 819.7,491.5 820.0,491.5 820.3,470.3 820.6,491.5 820.9,491.5 821.2,447.4 821.5,470.3 821.8,457.7 822.1,491.5 822.5,470.3 822.8,491.5 823.1,491.5 823.4,491.5 823.7,457.7 824.0,457.7 824.3,457.7 824.6,491.5 824.9,491.5 825.2,457.7 825.5,491.5 825.9,491.5 826.2,491.5 826.5,491.5 826.8,491.5 827.1,491.5 827.4,457.7 827.7,491.5 828.0,491.5 828.3,491.5 828.6,470.3 828.9,470.3 829.3,470.3 829.6,491.5 829.9,447.4 830.2,470.3 830.5,470.3 830.8,491.5 831.1,491.5 831.4,470.3 831.7,491.5 832.0,486.5 832.3,470.3 832.6,457.7 833.0,470.3 833.3,491.5 833.6,491.5 833.9,491.5 834.2,491.5 834.5,470.3 834.8,491.5 835.1,438.7 835.4,491.5 835.7,470.3 836.0,470.3 836.4,491.5 836.7,491.5 837.0,491.5 837.3,457.7 837.6,470.3 837.9,470.3 838.2,491.5 838.5,470.3 838.8,447.4 839.1,491.5 839.4,491.5 839.8,438.7 840.1,470.3 840.4,491.5 840.7,447.4 841.0,424.5 841.3,486.5 841.6,491.5 841.9,470.3 842.2,491.5 842.5,491.5 842.8,457.7 843.1,491.5 843.5,470.3 843.8,470.3 844.1,470.3 844.4,470.3 844.7,470.3 845.0,491.5 845.3,470.3 845.6,491.5 845.9,491.5 846.2,491.5 846.5,470.3 846.9,491.5 847.2,457.7 847.5,491.5 847.8,491.5 848.1,491.5 848.4,491.5 848.7,470.3 849.0,491.5 849.3,491.5 849.6,470.3 849.9,438.7 850.3,491.5 850.6,470.3 850.9,470.3 851.2,491.5 851.5,491.5 851.8,447.4 852.1,470.3 852.4,470.3 852.7,470.3 853.0,491.5 853.3,491.5 853.7,431.2 854.0,491.5 854.3,491.5 854.6,491.5 854.9,491.5 855.2,491.5 855.5,491.5 855.8,457.7 856.1,470.3 856.4,470.3 856.7,431.2 857.0,491.5 857.4,491.5 857.7,447.4 858.0,470.3 858.3,491.5 858.6,491.5 858.9,491.5 859.2,457.7 859.5,491.5 859.8,491.5 860.1,457.7 860.4,431.2 860.8,470.3 861.1,491.5 861.4,491.5 861.7,470.3 862.0,491.5 862.3,470.3 862.6,491.5 862.9,491.5 863.2,470.3 863.5,491.5 863.8,491.5 864.2,491.5 864.5,470.3 864.8,491.5 865.1,491.5 865.4,470.3 865.7,447.4 866.0,491.5 866.3,491.5 866.6,447.4 866.9,491.5 867.2,491.5 867.5,491.5 867.9,491.5 868.2,447.4 868.5,470.3 868.8,491.5 869.1,447.4 869.4,491.5 869.7,491.5 870.0,470.3 870.3,491.5 870.6,447.4 870.9,491.5 871.3,491.5 871.6,470.3 871.9,491.5 872.2,491.5 872.5,491.5 872.8,457.7 873.1,491.5 873.4,470.3 873.7,491.5 874.0,470.3 874.3,491.5 874.7,491.5 875.0,491.5 875.3,470.3 875.6,491.5 875.9,491.5 876.2,470.3 876.5,491.5 876.8,491.5 877.1,491.5 877.4,491.5 877.7,457.7 878.1,491.5 878.4,491.5 878.7,491.5 879.0,447.4 879.3,491.5 879.6,470.3 879.9,491.5 880.2,491.5 880.5,413.2 880.8,491.5 881.1,491.5 881.4,491.5 881.8,470.3 882.1,470.3 882.4,470.3 882.7,491.5 883.0,491.5 883.3,470.3 883.6,491.5 883.9,491.5 884.2,486.5 884.5,491.5 884.8,470.3 885.2,491.5 885.5,470.3 885.8,491.5 886.1,470.3 886.4,470.3 886.7,457.7 887.0,457.7 887.3,491.5 887.6,491.5 887.9,470.3 888.2,491.5 888.6,491.5 888.9,491.5 889.2,491.5 889.5,491.5 889.8,491.5 890.1,491.5 890.4,491.5 890.7,491.5 891.0,470.3 891.3,470.3 891.6,491.5 891.9,491.5 892.3,491.5 892.6,491.5 892.9,491.5 893.2,491.5 893.5,470.3 893.8,470.3 894.1,438.7 894.4,470.3 894.7,470.3 895.0,457.7 895.3,491.5 895.7,491.5 896.0,491.5 896.3,491.5 896.6,470.3 896.9,470.3 897.2,491.5 897.5,491.5 897.8,491.5 898.1,470.3 898.4,470.3 898.7,491.5 899.1,470.3 899.4,457.7 899.7,470.3 900.0,491.5 900.3,491.5 900.6,491.5 900.9,491.5 901.2,491.5 901.5,470.3 901.8,491.5 902.1,491.5 902.5,447.4 902.8,491.5 903.1,491.5 903.4,470.3 903.7,491.5 904.0,491.5 904.3,447.4 904.6,491.5 904.9,491.5 905.2,470.3 905.5,491.5 905.8,470.3 906.2,491.5 906.5,470.3 906.8,491.5 907.1,491.5 907.4,491.5 907.7,470.3 908.0,491.5 908.3,470.3 908.6,491.5 908.9,491.5 909.2,491.5 909.6,491.5 909.9,491.5 910.2,457.7 910.5,491.5 910.8,470.3 911.1,470.3 911.4,491.5 911.7,491.5 912.0,491.5 912.3,447.4 912.6,491.5 913.0,470.3 913.3,491.5 913.6,491.5 913.9,457.7 914.2,491.5 914.5,491.5 914.8,491.5 915.1,491.5 915.4,491.5 915.7,470.3 916.0,470.3 916.3,457.7 916.7,447.4 917.0,447.4 917.3,470.3 917.6,491.5 917.9,470.3 918.2,491.5 918.5,491.5 918.8,491.5 919.1,438.7 919.4,470.3 919.7,491.5 920.1,457.7 920.4,457.7 920.7,491.5 921.0,491.5 921.3,491.5 921.6,447.4 921.9,491.5 922.2,491.5 922.5,470.3 922.8,491.5 923.1,491.5 923.5,491.5 923.8,491.5 924.1,491.5 924.4,470.3 924.7,491.5 925.0,447.4 925.3,491.5 925.6,491.5 925.9,457.7 926.2,491.5 926.5,491.5 926.9,491.5 927.2,470.3 927.5,470.3 927.8,491.5 928.1,486.5 928.4,491.5 928.7,470.3 929.0,491.5 929.3,457.7 929.6,491.5 929.9,470.3 930.2,491.5 930.6,491.5 930.9,491.5 931.2,470.3 931.5,491.5 931.8,470.3 932.1,491.5 932.4,457.7 932.7,470.3 933.0,491.5 933.3,470.3 933.6,486.5 934.0,491.5 934.3,457.7 934.6,470.3 934.9,491.5 935.2,491.5 935.5,457.7 935.8,491.5 936.1,491.5 936.4,491.5 936.7,470.3 937.0,491.5 937.4,491.5 937.7,491.5 938.0,470.3 938.3,470.3 938.6,470.3 938.9,470.3 939.2,491.5 939.5,491.5 939.8,457.7 940.1,491.5 940.4,491.5 940.7,470.3 941.1,470.3 941.4,486.5 941.7,491.5 942.0,470.3 942.3,491.5 942.6,491.5 942.9,491.5 943.2,491.5 943.5,470.3 943.8,491.5 944.1,491.5 944.5,470.3 944.8,447.4 945.1,491.5 945.4,491.5 945.7,470.3 946.0,470.3 946.3,470.3 946.6,491.5 946.9,491.5 947.2,470.3 947.5,470.3 947.9,491.5 948.2,491.5 948.5,491.5 948.8,491.5 949.1,491.5 949.4,470.3 949.7,491.5 950.0,457.7 950.3,491.5 950.6,447.4 950.9,491.5 951.2,491.5 951.6,470.3 951.9,491.5 952.2,491.5 952.5,470.3 952.8,457.7 953.1,470.3 953.4,491.5 953.7,470.3 954.0,470.3 954.3,491.5 954.6,470.3 955.0,457.7 955.3,491.5 955.6,491.5 955.9,491.5 956.2,491.5 956.5,491.5 956.8,491.5 957.1,491.5 957.4,470.3 957.7,491.5 958.0,491.5 958.4,491.5 958.7,491.5 959.0,491.5 959.3,491.5 959.6,491.5 959.9,491.5 960.2,447.4 960.5,491.5 960.8,457.7 961.1,491.5 961.4,457.7 961.8,491.5 962.1,447.4 962.4,491.5 962.7,491.5 963.0,491.5 963.3,491.5 963.6,491.5 963.9,470.3 964.2,470.3 964.5,457.7 964.8,457.7 965.1,491.5 965.5,438.7 965.8,457.7 966.1,491.5 966.4,491.5 966.7,438.7 967.0,491.5 967.3,457.7 967.6,491.5 967.9,470.3 968.2,491.5 968.5,491.5 968.9,486.5 969.2,457.7 969.5,457.7 969.8,470.3 970.1,457.7 970.4,491.5 970.7,491.5 971.0,447.4 971.3,491.5 971.6,470.3 971.9,491.5 972.3,457.7 972.6,438.7 972.9,424.5 973.2,491.5 973.5,491.5 973.8,470.3 974.1,491.5 974.4,470.3 974.7,447.4 975.0,447.4 975.3,447.4 975.6,491.5 976.0,491.5 976.3,470.3 976.6,491.5 976.9,447.4 977.2,470.3 977.5,470.3 977.8,491.5 978.1,457.7 978.4,470.3 978.7,470.3 979.0,491.5 979.4,491.5 979.7,447.4 980.0,491.5 980.3,470.3 980.6,470.3 980.9,491.5 981.2,491.5 981.5,491.5 981.8,491.5 982.1,457.7 982.4,457.7 982.8,457.7 983.1,491.5 983.4,491.5 983.7,491.5 984.0,491.5 984.3,491.5 984.6,491.5 984.9,491.5 985.2,491.5 985.5,491.5 985.8,491.5 986.2,470.3 986.5,491.5 986.8,491.5 987.1,491.5 987.4,491.5 987.7,491.5 988.0,491.5 988.3,491.5 988.6,438.7 988.9,491.5 989.2,438.7 989.5,457.7 989.9,491.5 990.2,457.7 990.5,491.5 990.8,491.5 991.1,457.7 991.4,491.5 991.7,486.5 992.0,470.3 992.3,470.3 992.6,491.5 992.9,491.5 993.3,491.5 993.6,457.7 993.9,457.7 994.2,491.5 994.5,470.3 994.8,491.5 995.1,470.3 995.4,491.5 995.7,491.5 996.0,470.3 996.3,470.3 996.7,491.5 997.0,470.3 997.3,491.5 997.6,491.5 997.9,486.5 998.2,470.3 998.5,470.3 998.8,491.5 999.1,470.3 999.4,491.5 999.7,491.5 1000.0,470.3 1000.4,491.5 1000.7,491.5 1001.0,491.5 1001.3,457.7 1001.6,491.5 1001.9,431.2 1002.2,470.3 1002.5,491.5 1002.8,491.5 1003.1,470.3 1003.4,491.5 1003.8,431.2 1004.1,491.5 1004.4,447.4 1004.7,470.3 1005.0,470.3 1005.3,470.3 1005.6,491.5 1005.9,491.5 1006.2,470.3 1006.5,438.7 1006.8,491.5 1007.2,491.5 1007.5,491.5 1007.8,491.5 1008.1,470.3 1008.4,457.7 1008.7,486.5 1009.0,491.5 1009.3,470.3 1009.6,491.5 1009.9,491.5 1010.2,470.3 1010.6,491.5 1010.9,491.5 1011.2,438.7 1011.5,457.7 1011.8,457.7 1012.1,491.5 1012.4,491.5 1012.7,491.5 1013.0,457.7 1013.3,470.3 1013.6,491.5 1013.9,470.3 1014.3,491.5 1014.6,470.3 1014.9,491.5 1015.2,457.7 1015.5,491.5 1015.8,491.5 1016.1,491.5 1016.4,470.3 1016.7,486.5 1017.0,470.3 1017.3,457.7 1017.7,470.3 1018.0,470.3 1018.3,457.7 1018.6,491.5 1018.9,470.3 1019.2,491.5 1019.5,438.7 1019.8,470.3 1020.1,491.5 1020.4,491.5 1020.7,491.5 1021.1,491.5 1021.4,470.3 1021.7,447.4 1022.0,491.5 1022.3,491.5 1022.6,491.5 1022.9,470.3 1023.2,438.7 1023.5,486.5 1023.8,491.5 1024.1,418.6 1024.4,491.5 1024.8,491.5 1025.1,470.3 1025.4,491.5 1025.7,491.5 1026.0,491.5 1026.3,470.3 1026.6,457.7 1026.9,413.2 1027.2,491.5 1027.5,491.5 1027.8,491.5 1028.2,457.7 1028.5,491.5 1028.8,491.5 1029.1,447.4 1029.4,491.5 1029.7,491.5 1030.0,491.5 1030.3,491.5 1030.6,491.5 1030.9,491.5 1031.2,491.5 1031.6,447.4 1031.9,457.7 1032.2,491.5 1032.5,491.5 1032.8,418.6 1033.1,431.2 1033.4,418.6 1033.7,438.7 1034.0,413.2 1034.3,403.8 1034.6,413.2 1035.0,395.7 1035.3,385.4 1035.6,399.6 1035.9,395.7 1036.2,408.3 1036.5,374.1 1036.8,379.5 1037.1,374.1 1037.4,388.7 1037.7,366.9 1038.0,349.6 1038.3,346.4 1038.7,346.4 1039.0,337.7 1039.3,346.4 1039.6,330.1 1039.9,321.4 1040.2,329.0 1040.5,335.0 1040.8,333.8 1041.1,339.0 1041.4,347.9 1041.7,349.6 1042.1,353.0 1042.4,371.6 1042.7,374.1 1043.0,366.9 1043.3,366.9 1043.6,369.2 1043.9,392.1 1044.2,379.5 1044.5,385.4 1044.8,403.8 1045.1,395.7 1045.5,395.7 1045.8,385.4 1046.1,431.2 1046.4,395.7 1046.7,424.5 1047.0,424.5 1047.3,413.2 1047.6,424.5 1047.9,447.4 1048.2,491.5 1048.5,431.2 1048.8,491.5 1049.2,491.5 1049.5,491.5 1049.8,491.5 1050.1,491.5 1050.4,491.5 1050.7,424.5 1051.0,438.7 1051.3,438.7 1051.6,491.5 1051.9,457.7 1052.2,470.3 1052.6,491.5 1052.9,491.5 1053.2,431.2 1053.5,457.7 1053.8,447.4 1054.1,470.3 1054.4,438.7 1054.7,491.5 1055.0,491.5 1055.3,491.5 1055.6,447.4 1056.0,491.5 1056.3,486.5 1056.6,418.6 1056.9,470.3 1057.2,438.7 1057.5,491.5 1057.8,457.7 1058.1,491.5 1058.4,486.5 1058.7,491.5 1059.0,470.3 1059.3,491.5 1059.7,470.3 1060.0,413.2 1060.3,491.5 1060.6,491.5 1060.9,491.5 1061.2,491.5 1061.5,470.3 1061.8,491.5 1062.1,491.5 1062.4,491.5 1062.7,491.5 1063.1,491.5 1063.4,491.5 1063.7,470.3 1064.0,470.3 1064.3,491.5 1064.6,457.7 1064.9,491.5 1065.2,491.5 1065.5,491.5 1065.8,438.7 1066.1,491.5 1066.5,457.7 1066.8,470.3 1067.1,491.5 1067.4,491.5 1067.7,491.5 1068.0,470.3 1068.3,491.5 1068.6,470.3 1068.9,486.5 1069.2,491.5 1069.5,470.3 1069.9,491.5 1070.2,470.3 1070.5,491.5 1070.8,491.5 1071.1,457.7 1071.4,491.5 1071.7,491.5 1072.0,491.5 1072.3,470.3 1072.6,470.3 1072.9,491.5 1073.2,470.3 1073.6,470.3 1073.9,491.5 1074.2,491.5 1074.5,491.5 1074.8,491.5 1075.1,491.5 1075.4,491.5 1075.7,491.5 1076.0,491.5 1076.3,491.5 1076.6,491.5 1077.0,491.5 1077.3,470.3 1077.6,470.3 1077.9,470.3 1078.2,470.3 1078.5,470.3 1078.8,491.5 1079.1,457.7 1079.4,491.5 1079.7,491.5 1080.0,491.5 1080.4,457.7 1080.7,491.5 1081.0,470.3 1081.3,470.3 1081.6,457.7 1081.9,491.5 1082.2,457.7 1082.5,457.7 1082.8,491.5 1083.1,470.3 1083.4,457.7 1083.7,491.5 1084.1,491.5 1084.4,470.3 1084.7,438.7 1085.0,491.5 1085.3,470.3 1085.6,491.5 1085.9,491.5 1086.2,491.5 1086.5,470.3 1086.8,491.5 1087.1,491.5 1087.5,491.5 1087.8,470.3 1088.1,486.5 1088.4,491.5 1088.7,470.3 1089.0,491.5 1089.3,491.5 1089.6,470.3 1089.9,491.5 1090.2,491.5 1090.5,491.5 1090.9,491.5 1091.2,491.5 1091.5,491.5 1091.8,470.3 1092.1,491.5 1092.4,470.3 1092.7,491.5 1093.0,491.5 1093.3,447.4 1093.6,491.5 1093.9,491.5 1094.3,470.3 1094.6,491.5 1094.9,399.6 1095.2,491.5 1095.5,457.7 1095.8,491.5 1096.1,470.3 1096.4,470.3 1096.7,470.3 1097.0,491.5 1097.3,491.5 1097.6,457.7 1098.0,491.5 1098.3,470.3 1098.6,457.7 1098.9,491.5 1099.2,491.5 1099.5,457.7 1099.8,470.3 1100.1,491.5 1100.4,491.5 1100.7,447.4 1101.0,470.3 1101.4,470.3 1101.7,491.5 1102.0,491.5 1102.3,491.5 1102.6,457.7 1102.9,491.5 1103.2,491.5 1103.5,491.5 1103.8,491.5 1104.1,491.5 1104.4,491.5 1104.8,457.7 1105.1,491.5 1105.4,457.7 1105.7,491.5 1106.0,457.7 1106.3,491.5 1106.6,491.5 1106.9,491.5 1107.2,491.5 1107.5,447.4 1107.8,470.3 1108.1,457.7 1108.5,447.4 1108.8,491.5 1109.1,457.7 1109.4,491.5 1109.7,491.5 1110.0,447.4 1110.3,470.3 1110.6,491.5 1110.9,491.5 1111.2,470.3 1111.5,491.5 1111.9,491.5 1112.2,424.5 1112.5,470.3 1112.8,457.7 1113.1,438.7 1113.4,470.3 1113.7,491.5 1114.0,491.5 1114.3,470.3 1114.6,491.5 1114.9,491.5 1115.3,470.3 1115.6,470.3 1115.9,491.5 1116.2,491.5 1116.5,491.5 1116.8,470.3 1117.1,457.7 1117.4,491.5 1117.7,486.5 1118.0,491.5 1118.3,491.5 1118.7,491.5 1119.0,470.3 1119.3,491.5 1119.6,470.3 1119.9,470.3 1120.2,486.5 1120.5,447.4 1120.8,491.5 1121.1,491.5 1121.4,491.5 1121.7,491.5 1122.0,491.5 1122.4,491.5 1122.7,491.5 1123.0,491.5 1123.3,457.7 1123.6,491.5 1123.9,491.5 1124.2,457.7 1124.5,457.7 1124.8,438.7 1125.1,470.3 1125.4,491.5 1125.8,491.5 1126.1,491.5 1126.4,491.5 1126.7,491.5 1127.0,491.5 1127.3,470.3 1127.6,491.5 1127.9,491.5 1128.2,491.5 1128.5,491.5 1128.8,470.3 1129.2,491.5 1129.5,470.3 1129.8,491.5 1130.1,470.3 1130.4,470.3 1130.7,470.3 1131.0,491.5 1131.3,447.4 1131.6,491.5 1131.9,438.7 1132.2,470.3 1132.5,491.5 1132.9,491.5 1133.2,491.5 1133.5,491.5 1133.8,447.4 1134.1,447.4 1134.4,491.5 1134.7,491.5 1135.0,491.5 1135.3,491.5 1135.6,457.7 1135.9,491.5 1136.3,491.5 1136.6,457.7 1136.9,491.5 1137.2,486.5 1137.5,491.5 1137.8,491.5 1138.1,491.5 1138.4,491.5 1138.7,491.5 1139.0,491.5 1139.3,491.5 1139.7,491.5 1140.0,491.5 1140.3,491.5 1140.6,470.3 1140.9,457.7 1141.2,491.5 1141.5,491.5 1141.8,457.7 1142.1,470.3 1142.4,491.5 1142.7,491.5 1143.1,491.5 1143.4,470.3 1143.7,470.3 1144.0,447.4 1144.3,447.4 1144.6,438.7 1144.9,491.5 1145.2,447.4 1145.5,491.5 1145.8,491.5 1146.1,470.3 1146.4,470.3 1146.8,491.5 1147.1,447.4 1147.4,491.5 1147.7,470.3 1148.0,491.5 1148.3,491.5 1148.6,447.4 1148.9,491.5 1149.2,491.5 1149.5,491.5 1149.8,491.5 1150.2,491.5 1150.5,470.3 1150.8,491.5 1151.1,491.5 1151.4,491.5 1151.7,491.5 1152.0,491.5 1152.3,491.5 1152.6,491.5 1152.9,470.3 1153.2,491.5 1153.6,491.5 1153.9,491.5 1154.2,438.7 1154.5,470.3 1154.8,431.2 1155.1,486.5 1155.4,491.5 1155.7,438.7 1156.0,470.3 1156.3,491.5 1156.6,491.5 1156.9,491.5 1157.3,470.3 1157.6,457.7 1157.9,491.5 1158.2,470.3 1158.5,491.5 1158.8,470.3 1159.1,470.3 1159.4,491.5 1159.7,470.3 1160.0,457.7 1160.3,491.5 1160.7,491.5 1161.0,470.3 1161.3,470.3 1161.6,491.5 1161.9,491.5 1162.2,470.3 1162.5,470.3 1162.8,470.3 1163.1,457.7 1163.4,491.5 1163.7,470.3 1164.1,470.3 1164.4,470.3 1164.7,457.7 1165.0,457.7 1165.3,457.7 1165.6,491.5 1165.9,491.5 1166.2,457.7 1166.5,470.3 1166.8,491.5 1167.1,491.5 1167.4,470.3 1167.8,438.7 1168.1,470.3 1168.4,447.4 1168.7,491.5 1169.0,491.5 1169.3,470.3 1169.6,491.5 1169.9,491.5 1170.2,491.5 1170.5,470.3 1170.8,491.5 1171.2,470.3 1171.5,491.5 1171.8,470.3 1172.1,491.5 1172.4,470.3 1172.7,470.3 1173.0,491.5 1173.3,491.5 1173.6,491.5 1173.9,470.3 1174.2,447.4 1174.6,491.5 1174.9,491.5 1175.2,491.5 1175.5,457.7 1175.8,491.5 1176.1,470.3 1176.4,457.7 1176.7,491.5 1177.0,457.7 1177.3,470.3 1177.6,491.5 1178.0,491.5 1178.3,491.5 1178.6,491.5 1178.9,491.5 1179.2,457.7 1179.5,491.5 1179.8,470.3 1180.1,470.3 1180.4,470.3 1180.7,470.3 1181.0,491.5 1181.3,491.5 1181.7,491.5 1182.0,491.5 1182.3,491.5 1182.6,470.3 1182.9,470.3 1183.2,491.5 1183.5,457.7 1183.8,491.5 1184.1,491.5 1184.4,457.7 1184.7,491.5 1185.1,491.5 1185.4,491.5 1185.7,486.5 1186.0,457.7 1186.3,470.3 1186.6,470.3 1186.9,470.3 1187.2,491.5 1187.5,491.5 1187.8,431.2 1188.1,470.3 1188.5,457.7 1188.8,470.3 1189.1,457.7 1189.4,491.5 1189.7,491.5 1190.0,491.5 1190.3,491.5 1190.6,457.7 1190.9,491.5 1191.2,491.5 1191.5,491.5 1191.8,491.5 1192.2,470.3 1192.5,447.4 1192.8,470.3 1193.1,470.3 1193.4,491.5 1193.7,491.5 1194.0,470.3 1194.3,491.5 1194.6,491.5 1194.9,470.3 1195.2,470.3 1195.6,491.5 1195.9,491.5 1196.2,491.5 1196.5,491.5 1196.8,491.5 1197.1,470.3 1197.4,491.5 1197.7,470.3 1198.0,457.7 1198.3,491.5 1198.6,491.5 1199.0,470.3 1199.3,470.3 1199.6,424.5 1199.9,470.3 1200.2,491.5 1200.5,470.3 1200.8,491.5 1201.1,491.5 1201.4,457.7 1201.7,491.5 1202.0,470.3 1202.4,470.3 1202.7,470.3 1203.0,457.7 1203.3,470.3 1203.6,491.5 1203.9,491.5 1204.2,491.5 1204.5,491.5 1204.8,491.5 1205.1,457.7 1205.4,431.2 1205.7,491.5 1206.1,491.5 1206.4,470.3 1206.7,491.5 1207.0,491.5 1207.3,457.7 1207.6,470.3 1207.9,491.5 1208.2,447.4 1208.5,491.5 1208.8,491.5 1209.1,491.5 1209.5,470.3 1209.8,491.5 1210.1,491.5 1210.4,470.3 1210.7,491.5 1211.0,470.3 1211.3,491.5 1211.6,491.5 1211.9,457.7 1212.2,491.5 1212.5,470.3 1212.9,470.3 1213.2,470.3 1213.5,491.5 1213.8,438.7 1214.1,431.2 1214.4,457.7 1214.7,470.3 1215.0,470.3 1215.3,470.3 1215.6,470.3 1215.9,470.3 1216.2,470.3 1216.6,491.5 1216.9,491.5 1217.2,491.5 1217.5,491.5 1217.8,470.3 1218.1,447.4 1218.4,470.3 1218.7,470.3 1219.0,470.3 1219.3,470.3 1219.6,491.5 1220.0,491.5 1220.3,470.3 1220.6,457.7 1220.9,447.4 1221.2,491.5 1221.5,470.3"/>
<rect x="140.5" y="29.0" width="1081.0" height="457.5" fill="none" stroke="#000" stroke-width="3"/>
<path d="M140.5,486.5v-14M140.5,29.0v14M217.7,486.5v-7M217.7,29.0v7M294.9,486.5v-14M294.9,29.0v14M372.1,486.5v-7M372.1,29.0v7M449.4,486.5v-14M449.4,29.0v14M526.6,486.5v-7M526.6,29.0v7M603.8,486.5v-14M603.8,29.0v14M681.0,486.5v-7M681.0,29.0v7M758.2,486.5v-14M758.2,29.0v14M835.4,486.5v-7M835.4,29.0v7M912.6,486.5v-14M912.6,29.0v14M989.9,486.5v-7M989.9,29.0v7M1067.1,486.5v-14M1067.1,29.0v14M1144.3,486.5v-7M1144.3,29.0v7M1221.5,486.5v-14M1221.5,29.0v14M140.5,486.5h8M1221.5,486.5h-8M140.5,470.3h8M1221.5,470.3h-8M140.5,457.7h8M1221.5,457.7h-8M140.5,447.4h8M1221.5,447.4h-8M140.5,438.7h8M1221.5,438.7h-8M140.5,431.2h8M1221.5,431.2h-8M140.5,424.5h8M1221.5,424.5h-8M140.5,418.6h14M1221.5,418.6h-14M140.5,379.5h8M1221.5,379.5h-8M140.5,356.6h8M1221.5,356.6h-8M140.5,340.4h8M1221.5,340.4h-8M140.5,327.8h8M1221.5,327.8h-8M140.5,317.5h8M1221.5,317.5h-8M140.5,308.8h8M1221.5,308.8h-8M140.5,301.3h8M1221.5,301.3h-8M140.5,294.7h8M1221.5,294.7h-8M140.5,288.7h14M1221.5,288.7h-14M140.5,249.6h8M1221.5,249.6h-8M140.5,226.8h8M1221.5,226.8h-8M140.5,210.5h8M1221.5,210.5h-8M140.5,198.0h8M1221.5,198.0h-8M140.5,187.7h8M1221.5,187.7h-8M140.5,179.0h8M1221.5,179.0h-8M140.5,171.5h8M1221.5,171.5h-8M140.5,164.8h8M1221.5,164.8h-8M140.5,158.9h14M1221.5,158.9h-14M140.5,119.8h8M1221.5,119.8h-8M140.5,96.9h8M1221.5,96.9h-8M140.5,80.7h8M1221.5,80.7h-8M140.5,68.1h8M1221.5,68.1h-8M140.5,57.8h8M1221.5,57.8h-8M140.5,49.1h8M1221.5,49.1h-8M140.5,41.6h8M1221.5,41.6h-8M140.5,34.9h8M1221.5,34.9h-8" stroke="#000" stroke-width="2.6" fill="none"/>
<text x="140.5" y="529.5" font-size="45" font-weight="normal" font-style="normal" fill="#000" text-anchor="middle" font-family='"Liberation Serif", serif' >20</text>
<text x="294.9" y="529.5" font-size="45" font-weight="normal" font-style="normal" fill="#000" text-anchor="middle" font-family='"Liberation Serif", serif' >30</text>
<text x="449.4" y="529.5" font-size="45" font-weight="normal" font-style="normal" fill="#000" text-anchor="middle" font-family='"Liberation Serif", serif' >40</text>
<text x="603.8" y="529.5" font-size="45" font-weight="normal" font-style="normal" fill="#000" text-anchor="middle" font-family='"Liberation Serif", serif' >50</text>
<text x="758.2" y="529.5" font-size="45" font-weight="normal" font-style="normal" fill="#000" text-anchor="middle" font-family='"Liberation Serif", serif' >60</text>
<text x="912.6" y="529.5" font-size="45" font-weight="normal" font-style="normal" fill="#000" text-anchor="middle" font-family='"Liberation Serif", serif' >70</text>
<text x="1067.1" y="529.5" font-size="45" font-weight="normal" font-style="normal" fill="#000" text-anchor="middle" font-family='"Liberation Serif", serif' >80</text>
<text x="1221.5" y="529.5" font-size="45" font-weight="normal" font-style="normal" fill="#000" text-anchor="middle" font-family='"Liberation Serif", serif' >90</text>
<text x="68.7" y="47.2" font-size="45" font-weight="normal" font-style="normal" fill="#000" text-anchor="start" font-family='"Liberation Serif", serif' >10</text>
<text x="112" y="22.4" font-size="27.5" font-weight="normal" font-style="normal" fill="#000" text-anchor="start" font-family='"Liberation Serif", serif' >4</text>
<text x="68.7" y="306.8" font-size="45" font-weight="normal" font-style="normal" fill="#000" text-anchor="start" font-family='"Liberation Serif", serif' >10</text>
<text x="112" y="282.5" font-size="27.5" font-weight="normal" font-style="normal" fill="#000" text-anchor="start" font-family='"Liberation Serif", serif' >2</text>
<text x="592" y="572.6" font-size="50" font-weight="normal" font-style="normal" fill="#000" text-anchor="start" font-family='"Liberation Serif", serif' >2</text>
<text x="621.5" y="572.6" font-size="50" font-weight="normal" font-style="italic" fill="#000" text-anchor="start" font-family='"Liberation Serif", serif' >θ</text>
<text x="656" y="572.6" font-size="51" letter-spacing="0.6" font-family='"Liberation Serif", serif'>(deg)</text>
<text transform="translate(53,270) rotate(-90)" font-size="51" text-anchor="middle" font-family='"Liberation Serif", serif'><tspan font-style="italic">I</tspan> (a.u.)</text>
<text x="196" y="89.4" font-size="46" font-weight="bold" font-style="normal" fill="#000" text-anchor="start" font-family='"Liberation Serif", serif' >*</text>
<text x="226" y="87" font-size="44.5" font-weight="bold" font-family='"Liberation Serif", serif'>V<tspan font-size="26" dy="18">2</tspan><tspan dy="-18">O</tspan><tspan font-size="26" dy="18">3</tspan><tspan dy="-18"> (012)</tspan></text>
<text x="216.3" y="276" font-size="45" font-weight="bold" font-style="normal" fill="#000" text-anchor="start" font-family='"Liberation Serif", serif' >Sapphire</text>
<path d="M229.20,305.70 L231.54,298.93 L225.66,298.93 L228.00,305.70ZM231.70,298.00A3.1,3.1 0 1 0 225.50,298.00A3.1,3.1 0 1 0 231.70,298.00ZM228.60,305.10 L222.10,302.85 L222.10,308.55 L228.60,306.30ZM224.20,305.70A3.0,3.0 0 1 0 218.20,305.70A3.0,3.0 0 1 0 224.20,305.70ZM228.60,306.30 L235.30,308.55 L235.30,302.85 L228.60,305.10ZM239.20,305.70A3.0,3.0 0 1 0 233.20,305.70A3.0,3.0 0 1 0 239.20,305.70ZM228.00,328.40 L225.66,334.47 L231.54,334.47 L229.20,328.40ZM231.70,335.40A3.1,3.1 0 1 0 225.50,335.40A3.1,3.1 0 1 0 231.70,335.40ZM228.60,327.80 L222.70,325.55 L222.70,331.25 L228.60,329.00ZM224.80,328.40A3.0,3.0 0 1 0 218.80,328.40A3.0,3.0 0 1 0 224.80,328.40ZM228.60,329.00 L235.00,331.25 L235.00,325.55 L228.60,327.80ZM238.90,328.40A3.0,3.0 0 1 0 232.90,328.40A3.0,3.0 0 1 0 238.90,328.40ZM225.80,310.50L228.60,307.50L231.40,310.50L228.60,313.50ZM225.80,323.60L228.60,320.60L231.40,323.60L228.60,326.60ZM227.40,305.70L229.80,305.70L229.60,328.40L227.60,328.40Z" fill="#000"/>
<text x="253" y="331.3" font-size="45.5" font-weight="bold" font-style="normal" fill="#000" text-anchor="start" font-family='"Liberation Serif", serif' >(012)</text>
<text x="501.4" y="236" font-size="44" font-weight="bold" font-style="normal" fill="#000" text-anchor="middle" font-family='"Liberation Serif", serif' >Ni</text>
<text x="501.7" y="291.5" font-size="46" font-weight="bold" font-style="normal" fill="#000" text-anchor="middle" font-family='"Liberation Serif", serif' >(111)</text>
<path d="M503.50,315.20 L505.84,308.03 L499.95,308.03 L502.30,315.20ZM506.00,307.10A3.1,3.1 0 1 0 499.80,307.10A3.1,3.1 0 1 0 506.00,307.10ZM502.90,314.60 L496.66,312.16 L496.66,318.24 L502.90,315.80ZM498.90,315.20A3.2,3.2 0 1 0 492.50,315.20A3.2,3.2 0 1 0 498.90,315.20ZM502.90,315.80 L509.54,318.24 L509.54,312.16 L502.90,314.60ZM513.70,315.20A3.2,3.2 0 1 0 507.30,315.20A3.2,3.2 0 1 0 513.70,315.20ZM500.80,323.40L502.90,318.90L505.00,323.40L502.90,327.90ZM501.60,315.20L504.20,315.20L503.50,347.40L502.30,347.40Z" fill="#000"/>
<text x="588.5" y="171.7" font-size="45" font-weight="bold" font-style="normal" fill="#000" text-anchor="start" font-family='"Liberation Serif", serif' >*</text>
<text x="618" y="158" font-size="44.5" font-weight="bold" font-family='"Liberation Serif", serif'>V<tspan font-size="26" dy="18">2</tspan><tspan dy="-18">O</tspan><tspan font-size="26" dy="18">3</tspan><tspan dy="-18"> (024)</tspan></text>
<text x="623.3" y="262.5" font-size="45" font-weight="bold" font-style="normal" fill="#000" text-anchor="start" font-family='"Liberation Serif", serif' >Sapphire</text>
<path d="M646.30,288.58 L648.65,282.24 L642.75,282.24 L645.10,288.58ZM648.80,281.31A3.1,3.1 0 1 0 642.60,281.31A3.1,3.1 0 1 0 648.80,281.31ZM645.70,287.98 L639.20,285.73 L639.20,291.43 L645.70,289.18ZM641.30,288.58A3.0,3.0 0 1 0 635.30,288.58A3.0,3.0 0 1 0 641.30,288.58ZM645.70,289.18 L652.40,291.43 L652.40,285.73 L645.70,287.98ZM656.30,288.58A3.0,3.0 0 1 0 650.30,288.58A3.0,3.0 0 1 0 656.30,288.58ZM645.10,310.04 L642.75,315.72 L648.65,315.72 L646.30,310.04ZM648.80,316.65A3.1,3.1 0 1 0 642.60,316.65A3.1,3.1 0 1 0 648.80,316.65ZM645.70,309.44 L639.80,307.19 L639.80,312.89 L645.70,310.64ZM641.90,310.04A3.0,3.0 0 1 0 635.90,310.04A3.0,3.0 0 1 0 641.90,310.04ZM645.70,310.64 L652.10,312.89 L652.10,307.19 L645.70,309.44ZM656.00,310.04A3.0,3.0 0 1 0 650.00,310.04A3.0,3.0 0 1 0 656.00,310.04ZM642.90,293.12L645.70,290.29L648.50,293.12L645.70,295.95ZM642.90,305.50L645.70,302.66L648.50,305.50L645.70,308.33ZM644.50,288.58L646.90,288.58L646.70,310.04L644.70,310.04Z" fill="#000"/>
<text x="668" y="317.3" font-size="45.5" font-weight="bold" font-style="normal" fill="#000" text-anchor="start" font-family='"Liberation Serif", serif' >(024)</text>
<text x="825" y="317" font-size="44.5" font-weight="bold" font-family='"Liberation Serif", serif'>V<tspan font-size="26" dy="18">2</tspan><tspan dy="-18">O</tspan><tspan font-size="26" dy="18">3</tspan><tspan dy="-18"> (036)</tspan></text>
<text x="1028" y="327.4" font-size="46" font-weight="bold" font-style="normal" fill="#000" text-anchor="start" font-family='"Liberation Serif", serif' >*</text>
<text x="1141" y="102" font-size="62" font-weight="bold" font-style="normal" fill="#000" text-anchor="start" font-family='"Liberation Serif", serif' >a</text>
<defs><filter id="fcb" x="0" y="0" width="1" height="1" color-interpolation-filters="sRGB">
<feTurbulence type="fractalNoise" baseFrequency="0.35" numOctaves="2" seed="3" result="t"/>
<feColorMatrix in="t" type="matrix" values="1 0 0 0 0  1 0 0 0 0  1 0 0 0 0  0 0 0 0 1" result="n"/>

<feComposite in="SourceGraphic" in2="n" operator="arithmetic" k1="0" k2="1" k3="0.42" k4="-0.21" result="s"/>
<feComponentTransfer in="s"><feFuncR type="table" tableValues="0.000 0.029 0.059 0.088 0.118 0.162 0.207 0.251 0.298 0.345 0.392 0.431 0.471 0.510 0.549 0.588 0.536 0.484 0.431 0.353 0.275 0.196 0.152 0.107 0.063 0.073 0.084 0.094 0.115 0.136 0.157 0.105 0.052 0.000 0.000 0.000 0.000 0.144 0.288 0.431 0.591 0.750 0.910 0.940 0.970 1.000 0.980 0.961 0.941 0.863 0.784"/><feFuncG type="table" tableValues="0.000 0.004 0.008 0.012 0.016 0.021 0.026 0.031 0.039 0.047 0.055 0.055 0.055 0.055 0.055 0.055 0.058 0.060 0.063 0.076 0.089 0.102 0.133 0.165 0.196 0.267 0.337 0.408 0.468 0.528 0.588 0.667 0.745 0.824 0.882 0.941 1.000 1.000 1.000 1.000 1.000 1.000 1.000 0.850 0.699 0.549 0.392 0.235 0.078 0.039 0.000"/><feFuncB type="table" tableValues="0.000 0.043 0.086 0.129 0.173 0.251 0.329 0.408 0.492 0.575 0.659 0.719 0.779 0.839 0.878 0.918 0.945 0.973 1.000 1.000 1.000 1.000 1.000 1.000 1.000 1.000 1.000 1.000 1.000 1.000 1.000 1.000 1.000 1.000 0.928 0.856 0.784 0.627 0.471 0.314 0.235 0.157 0.078 0.052 0.026 0.000 0.013 0.026 0.039 0.020 0.000"/><feFuncA type="linear" slope="1" intercept="0"/></feComponentTransfer>
</filter><filter id="fcb0" x="0" y="0" width="1" height="1" color-interpolation-filters="sRGB">
<feTurbulence type="fractalNoise" baseFrequency="0.5" numOctaves="1" seed="1" result="t"/>
<feColorMatrix in="t" type="matrix" values="1 0 0 0 0  1 0 0 0 0  1 0 0 0 0  0 0 0 0 1" result="n"/>

<feComposite in="SourceGraphic" in2="n" operator="arithmetic" k1="0" k2="1" k3="0.0" k4="-0.0" result="s"/>
<feComponentTransfer in="s"><feFuncR type="table" tableValues="0.000 0.029 0.059 0.088 0.118 0.162 0.207 0.251 0.298 0.345 0.392 0.431 0.471 0.510 0.549 0.588 0.536 0.484 0.431 0.353 0.275 0.196 0.152 0.107 0.063 0.073 0.084 0.094 0.115 0.136 0.157 0.105 0.052 0.000 0.000 0.000 0.000 0.144 0.288 0.431 0.591 0.750 0.910 0.940 0.970 1.000 0.980 0.961 0.941 0.863 0.784"/><feFuncG type="table" tableValues="0.000 0.004 0.008 0.012 0.016 0.021 0.026 0.031 0.039 0.047 0.055 0.055 0.055 0.055 0.055 0.055 0.058 0.060 0.063 0.076 0.089 0.102 0.133 0.165 0.196 0.267 0.337 0.408 0.468 0.528 0.588 0.667 0.745 0.824 0.882 0.941 1.000 1.000 1.000 1.000 1.000 1.000 1.000 0.850 0.699 0.549 0.392 0.235 0.078 0.039 0.000"/><feFuncB type="table" tableValues="0.000 0.043 0.086 0.129 0.173 0.251 0.329 0.408 0.492 0.575 0.659 0.719 0.779 0.839 0.878 0.918 0.945 0.973 1.000 1.000 1.000 1.000 1.000 1.000 1.000 1.000 1.000 1.000 1.000 1.000 1.000 1.000 1.000 1.000 0.928 0.856 0.784 0.627 0.471 0.314 0.235 0.157 0.078 0.052 0.026 0.000 0.013 0.026 0.039 0.020 0.000"/><feFuncA type="linear" slope="1" intercept="0"/></feComponentTransfer>
</filter>
<clipPath id="cb"><path d="M133.0,989.9 L133.0,698.4 L406.3,698.4 A520.5,500.1 0 0 1 576.0,861.4 L576.0,1124.0 L273.7,1124.0 Z"/></clipPath>
<linearGradient id="gbh" x1="0" x2="1" y1="0" y2="0"><stop offset="0" stop-color="rgb(87,87,87)"/><stop offset="0.025" stop-color="rgb(61,61,61)"/><stop offset="0.06" stop-color="rgb(50,50,50)"/><stop offset="0.2" stop-color="rgb(40,40,40)"/><stop offset="0.4" stop-color="rgb(29,29,29)"/><stop offset="0.6" stop-color="rgb(20,20,20)"/><stop offset="0.8" stop-color="rgb(15,15,15)"/><stop offset="1" stop-color="rgb(13,13,13)"/></linearGradient>
<linearGradient id="gbv" x1="0" x2="0" y1="0" y2="1"><stop offset="0" stop-color="#fff" stop-opacity="0.03"/><stop offset="0.6" stop-color="#000" stop-opacity="0"/><stop offset="1" stop-color="#000" stop-opacity="0.06"/></linearGradient>
<linearGradient id="gbl" x1="0" x2="1" y1="0" y2="0"><stop offset="0" stop-color="#fff" stop-opacity="0.2"/><stop offset="1" stop-color="#fff" stop-opacity="0"/></linearGradient>
<radialGradient id="gspot"><stop offset="0" stop-color="rgb(214,214,214)"/><stop offset="0.4" stop-color="rgb(196,196,196)"/><stop offset="0.7" stop-color="rgb(165,165,165)"/><stop offset="0.88" stop-color="rgb(125,125,125)" stop-opacity="0.8"/><stop offset="1" stop-color="rgb(100,100,100)" stop-opacity="0"/></radialGradient>
<radialGradient id="ghalo"><stop offset="0" stop-color="rgb(120,120,120)"/><stop offset="0.5" stop-color="rgb(105,105,105)" stop-opacity="0.8"/><stop offset="1" stop-color="rgb(80,80,80)" stop-opacity="0"/></radialGradient>
<radialGradient id="ghalo2"><stop offset="0" stop-color="rgb(128,128,128)"/><stop offset="0.5" stop-color="rgb(115,115,115)" stop-opacity="0.85"/><stop offset="1" stop-color="rgb(80,80,80)" stop-opacity="0"/></radialGradient>
<filter id="fbl8" x="-50%" y="-50%" width="200%" height="200%"><feGaussianBlur stdDeviation="12"/></filter>
<filter id="fbl3" x="-20%" y="-20%" width="140%" height="140%"><feGaussianBlur stdDeviation="4"/></filter>
<filter id="fbl1"><feGaussianBlur stdDeviation="1.5"/></filter>
</defs>
<g clip-path="url(#cb)"><g filter="url(#fcb)">
<rect x="133.0" y="698.4" width="443.0" height="425.6" fill="url(#gbh)"/>
<rect x="133.0" y="698.4" width="443.0" height="425.6" fill="url(#gbv)"/>
<rect x="133.0" y="698.4" width="10" height="425.6" fill="url(#gbl)"/>
<ellipse cx="138" cy="738" rx="26" ry="24" transform="rotate(0 138 738)" fill="url(#ghalo2)" opacity="1"/>
<ellipse cx="137" cy="935" rx="18" ry="26" transform="rotate(0 137 935)" fill="url(#ghalo2)" opacity="0.9"/>
<ellipse cx="330" cy="752" rx="34" ry="19" transform="rotate(18 330 752)" fill="url(#ghalo2)" opacity="1"/>
<ellipse cx="336" cy="940" rx="16" ry="20" transform="rotate(40 336 940)" fill="url(#ghalo)" opacity="0.7"/>
<ellipse cx="534" cy="958" rx="12" ry="20" transform="rotate(8 534 958)" fill="url(#ghalo2)" opacity="0.9"/>
<path d="M225,893 Q270,915 305,942" stroke="rgb(92,92,92)" stroke-width="2" fill="none" opacity="0.8"/>
<path d="M262,930 Q300,1000 330,1100" stroke="rgb(76,76,76)" stroke-width="1.5" fill="none" opacity="0.6"/>
</g><g filter="url(#fcb0)">
<path d="M133.0,989.9 L273.7,1124.0 L290,1124.0 L290,1118 L284,1072 L258,1032 L207,1000 L160,990 L133.0,988 Z" fill="rgb(64,64,64)" filter="url(#fbl3)"/>
<path d="M133.0,989.9 L273.7,1124.0 L286,1124.0 L133.0,980.9 Z" fill="rgb(94,94,94)" filter="url(#fbl1)"/>
<g filter="url(#fbl1)"><path d="M185,1005 L285,1090" stroke="rgb(31,31,31)" stroke-width="2.5" opacity="0.85"/><path d="M205,1016 L288,1070" stroke="rgb(36,36,36)" stroke-width="2" opacity="0.85"/><path d="M170,1000 L272,1062" stroke="rgb(87,87,87)" stroke-width="3" opacity="0.85"/><path d="M160,1000 L282,1108" stroke="rgb(92,92,92)" stroke-width="3" opacity="0.85"/><path d="M215,1045 L280,1120" stroke="rgb(51,51,51)" stroke-width="6" opacity="0.85"/><path d="M228,1038 L284,1080" stroke="rgb(56,56,56)" stroke-width="7" opacity="0.85"/><path d="M190,1010 L245,1012" stroke="rgb(26,26,26)" stroke-width="2.5" opacity="0.85"/><path d="M235,1060 L286,1100" stroke="rgb(82,82,82)" stroke-width="2" opacity="0.85"/></g>
</g><g filter="url(#fcb0)">
<ellipse cx="150" cy="759" rx="30" ry="5" transform="rotate(0 150 759)" fill="url(#gspot)" opacity="1"/>
<ellipse cx="333" cy="784" rx="32" ry="6.5" transform="rotate(28 333 784)" fill="url(#gspot)" opacity="1"/>
<ellipse cx="140" cy="943" rx="28" ry="5.5" transform="rotate(-2 140 943)" fill="url(#gspot)" opacity="1"/>
<ellipse cx="326" cy="965" rx="27" ry="5" transform="rotate(52 326 965)" fill="url(#gspot)" opacity="1"/>
<ellipse cx="514" cy="982" rx="30" ry="7" transform="rotate(68 514 982)" fill="url(#gspot)" opacity="1"/>
</g></g>
<rect x="133.0" y="698.4" width="443.0" height="425.6" fill="none" stroke="#000" stroke-width="2.5"/>
<path d="M133.0,1124.0v8M133.0,698.4v8M133.0,1124.0h-8M576.0,1124.0h-8M188.4,1124.0v5M188.4,698.4v5M133.0,1070.8h-5M576.0,1070.8h-5M243.8,1124.0v8M243.8,698.4v8M133.0,1017.6h-8M576.0,1017.6h-8M299.1,1124.0v5M299.1,698.4v5M133.0,964.4h-5M576.0,964.4h-5M354.5,1124.0v8M354.5,698.4v8M133.0,911.2h-8M576.0,911.2h-8M409.9,1124.0v5M409.9,698.4v5M133.0,858.0h-5M576.0,858.0h-5M465.2,1124.0v8M465.2,698.4v8M133.0,804.8h-8M576.0,804.8h-8M520.6,1124.0v5M520.6,698.4v5M133.0,751.6h-5M576.0,751.6h-5M576.0,1124.0v8M576.0,698.4v8M133.0,698.4h-8M576.0,698.4h-8" stroke="#000" stroke-width="2.2" fill="none"/>
<text x="132.75" y="1173.5" font-size="46" font-weight="normal" font-style="normal" fill="#000" text-anchor="middle" font-family='"Liberation Serif", serif' >0</text>
<text x="119" y="1137.7" font-size="46.5" font-weight="normal" font-style="normal" fill="#000" text-anchor="end" font-family='"Liberation Serif", serif' >0</text>
<text x="244" y="1173.5" font-size="46" font-weight="normal" font-style="normal" fill="#000" text-anchor="middle" font-family='"Liberation Serif", serif' >10</text>
<text x="119" y="1031.3" font-size="46.5" font-weight="normal" font-style="normal" fill="#000" text-anchor="end" font-family='"Liberation Serif", serif' >10</text>
<text x="353" y="1173.5" font-size="46" font-weight="normal" font-style="normal" fill="#000" text-anchor="middle" font-family='"Liberation Serif", serif' >20</text>
<text x="119" y="924.9" font-size="46.5" font-weight="normal" font-style="normal" fill="#000" text-anchor="end" font-family='"Liberation Serif", serif' >20</text>
<text x="462.5" y="1173.5" font-size="46" font-weight="normal" font-style="normal" fill="#000" text-anchor="middle" font-family='"Liberation Serif", serif' >30</text>
<text x="119" y="818.5" font-size="46.5" font-weight="normal" font-style="normal" fill="#000" text-anchor="end" font-family='"Liberation Serif", serif' >30</text>
<text x="574" y="1173.5" font-size="46" font-weight="normal" font-style="normal" fill="#000" text-anchor="middle" font-family='"Liberation Serif", serif' >40</text>
<text x="119" y="712.1" font-size="46.5" font-weight="normal" font-style="normal" fill="#000" text-anchor="end" font-family='"Liberation Serif", serif' >40</text>
<text x="256" y="1219" font-size="51" font-weight="bold" font-style="italic" font-family='"Liberation Serif", serif'>Q</text>
<path d="M297.5,1211 V1238 M304.5,1211 V1238" stroke="#000" stroke-width="1.8"/>
<text x="321" y="1219" font-size="46.5" font-weight="bold" font-style="normal" fill="#000" text-anchor="start" font-family='"Liberation Serif", serif' >(nm</text>
<text x="405" y="1206" font-size="28" font-weight="bold" font-style="normal" fill="#000" text-anchor="start" font-family='"Liberation Serif", serif' >-1</text>
<text x="433" y="1219" font-size="46.5" font-weight="bold" font-style="normal" fill="#000" text-anchor="start" font-family='"Liberation Serif", serif' >)</text>
<text transform="translate(47,1012.5) rotate(-90)" font-size="50" font-weight="bold" font-style="italic" font-family='"Liberation Serif", serif'>Q</text>
<path d="M36.4,963 H56.2 M56.2,954.3 V972.2" stroke="#000" stroke-width="2.4"/>
<text transform="translate(47,941.2) rotate(-90)" font-size="48" font-weight="bold" font-style="normal" font-family='"Liberation Serif", serif'>(nm</text>
<text transform="translate(31,855.1) rotate(-90)" font-size="28" font-weight="bold" font-style="normal" font-family='"Liberation Serif", serif'>-1</text>
<text transform="translate(47,828) rotate(-90)" font-size="48" font-weight="bold" font-style="normal" font-family='"Liberation Serif", serif'>)</text>
<text x="16" y="677" font-size="60" font-weight="bold" font-style="normal" fill="#000" text-anchor="start" font-family='"Liberation Serif", serif' >b</text>
<text x="142" y="810" font-size="46.5" font-weight="bold" fill="#fff" font-family='"Liberation Sans", sans-serif'>(024)</text>
<text x="291" y="846.5" font-size="46.5" font-weight="bold" fill="#fff" font-family='"Liberation Sans", sans-serif'>(116)</text>
<text x="142" y="993" font-size="46.5" font-weight="bold" fill="#fff" font-family='"Liberation Sans", sans-serif'>(012)</text>
<text x="291" y="1029.5" font-size="46.5" font-weight="bold" fill="#fff" font-family='"Liberation Sans", sans-serif'>(104)</text>
<text x="456" y="1066" font-size="46.5" font-weight="bold" fill="#fff" font-family='"Liberation Sans", sans-serif'>(216)</text>
<path d="M499,1025.5 h23" stroke="#fff" stroke-width="3.5"/>
<defs><filter id="fcc" x="0" y="0" width="1" height="1" color-interpolation-filters="sRGB">
<feTurbulence type="fractalNoise" baseFrequency="0.07" numOctaves="3" seed="5" result="t"/>
<feColorMatrix in="t" type="matrix" values="1 0 0 0 0  1 0 0 0 0  1 0 0 0 0  0 0 0 0 1" result="n"/>

<feComposite in="SourceGraphic" in2="n" operator="arithmetic" k1="0" k2="1" k3="0.17" k4="-0.085" result="s"/>
<feComponentTransfer in="s"><feFuncR type="table" tableValues="0.000 0.029 0.059 0.088 0.118 0.162 0.207 0.251 0.298 0.345 0.392 0.431 0.471 0.510 0.549 0.588 0.536 0.484 0.431 0.353 0.275 0.196 0.152 0.107 0.063 0.073 0.084 0.094 0.115 0.136 0.157 0.105 0.052 0.000 0.000 0.000 0.000 0.144 0.288 0.431 0.591 0.750 0.910 0.940 0.970 1.000 0.980 0.961 0.941 0.863 0.784"/><feFuncG type="table" tableValues="0.000 0.004 0.008 0.012 0.016 0.021 0.026 0.031 0.039 0.047 0.055 0.055 0.055 0.055 0.055 0.055 0.058 0.060 0.063 0.076 0.089 0.102 0.133 0.165 0.196 0.267 0.337 0.408 0.468 0.528 0.588 0.667 0.745 0.824 0.882 0.941 1.000 1.000 1.000 1.000 1.000 1.000 1.000 0.850 0.699 0.549 0.392 0.235 0.078 0.039 0.000"/><feFuncB type="table" tableValues="0.000 0.043 0.086 0.129 0.173 0.251 0.329 0.408 0.492 0.575 0.659 0.719 0.779 0.839 0.878 0.918 0.945 0.973 1.000 1.000 1.000 1.000 1.000 1.000 1.000 1.000 1.000 1.000 1.000 1.000 1.000 1.000 1.000 1.000 0.928 0.856 0.784 0.627 0.471 0.314 0.235 0.157 0.078 0.052 0.026 0.000 0.013 0.026 0.039 0.020 0.000"/><feFuncA type="linear" slope="1" intercept="0"/></feComponentTransfer>
</filter><filter id="fcc0" x="0" y="0" width="1" height="1" color-interpolation-filters="sRGB">
<feTurbulence type="fractalNoise" baseFrequency="0.07" numOctaves="1" seed="5" result="t"/>
<feColorMatrix in="t" type="matrix" values="1 0 0 0 0  1 0 0 0 0  1 0 0 0 0  0 0 0 0 1" result="n"/>

<feComposite in="SourceGraphic" in2="n" operator="arithmetic" k1="0" k2="1" k3="0.0" k4="-0.0" result="s"/>
<feComponentTransfer in="s"><feFuncR type="table" tableValues="0.000 0.029 0.059 0.088 0.118 0.162 0.207 0.251 0.298 0.345 0.392 0.431 0.471 0.510 0.549 0.588 0.536 0.484 0.431 0.353 0.275 0.196 0.152 0.107 0.063 0.073 0.084 0.094 0.115 0.136 0.157 0.105 0.052 0.000 0.000 0.000 0.000 0.144 0.288 0.431 0.591 0.750 0.910 0.940 0.970 1.000 0.980 0.961 0.941 0.863 0.784"/><feFuncG type="table" tableValues="0.000 0.004 0.008 0.012 0.016 0.021 0.026 0.031 0.039 0.047 0.055 0.055 0.055 0.055 0.055 0.055 0.058 0.060 0.063 0.076 0.089 0.102 0.133 0.165 0.196 0.267 0.337 0.408 0.468 0.528 0.588 0.667 0.745 0.824 0.882 0.941 1.000 1.000 1.000 1.000 1.000 1.000 1.000 0.850 0.699 0.549 0.392 0.235 0.078 0.039 0.000"/><feFuncB type="table" tableValues="0.000 0.043 0.086 0.129 0.173 0.251 0.329 0.408 0.492 0.575 0.659 0.719 0.779 0.839 0.878 0.918 0.945 0.973 1.000 1.000 1.000 1.000 1.000 1.000 1.000 1.000 1.000 1.000 1.000 1.000 1.000 1.000 1.000 1.000 0.928 0.856 0.784 0.627 0.471 0.314 0.235 0.157 0.078 0.052 0.026 0.000 0.013 0.026 0.039 0.020 0.000"/><feFuncA type="linear" slope="1" intercept="0"/></feComponentTransfer>
</filter>
<radialGradient id="gpole" cx="972.0" cy="958.5" r="220.5" gradientUnits="userSpaceOnUse"><stop offset="0" stop-color="rgb(102,102,102)"/><stop offset="0.1" stop-color="rgb(107,107,107)"/><stop offset="0.16" stop-color="rgb(117,117,117)"/><stop offset="0.24" stop-color="rgb(128,128,128)"/><stop offset="0.3" stop-color="rgb(142,142,142)"/><stop offset="0.4" stop-color="rgb(149,149,149)"/><stop offset="0.62" stop-color="rgb(149,149,149)"/><stop offset="0.7" stop-color="rgb(133,133,133)"/><stop offset="0.76" stop-color="rgb(120,120,120)"/><stop offset="0.795" stop-color="rgb(99,99,99)"/><stop offset="0.83" stop-color="rgb(80,80,80)"/><stop offset="0.905" stop-color="rgb(76,76,76)"/><stop offset="0.93" stop-color="rgb(66,66,66)"/><stop offset="0.95" stop-color="rgb(36,36,36)"/><stop offset="0.97" stop-color="rgb(8,8,8)"/><stop offset="1" stop-color="rgb(0,0,0)"/></radialGradient>
<clipPath id="cc"><circle cx="972.0" cy="958.5" r="220.5"/></clipPath>
<radialGradient id="gps"><stop offset="0" stop-color="rgb(245,245,245)"/><stop offset="0.45" stop-color="rgb(240,240,240)"/><stop offset="0.6" stop-color="rgb(214,214,214)"/><stop offset="0.85" stop-color="rgb(170,170,170)"/><stop offset="1" stop-color="rgb(140,140,140)" stop-opacity="0"/></radialGradient>
</defs>
<g clip-path="url(#cc)"><g filter="url(#fcc)">
<rect x="751.5" y="738.0" width="441.0" height="441.0" fill="url(#gpole)"/>
<ellipse cx="1090" cy="950" rx="60" ry="115" fill="rgb(118,118,118)" opacity="0.8" filter="url(#fbl8)"/>
<ellipse cx="1010" cy="900" rx="45" ry="30" fill="rgb(120,120,120)" opacity="0.7" filter="url(#fbl8)"/>
<ellipse cx="860" cy="830" rx="40" ry="25" fill="rgb(120,120,120)" opacity="0.6" filter="url(#fbl8)"/>
</g><g filter="url(#fcc0)">
<ellipse cx="977" cy="842" rx="8" ry="17" transform="rotate(0 977 842)" fill="url(#gps)"/>
<ellipse cx="857" cy="958" rx="17" ry="7.5" transform="rotate(0 857 958)" fill="url(#gps)"/>
<ellipse cx="1104" cy="1094" rx="10" ry="8" transform="rotate(40 1104 1094)" fill="url(#gps)"/>
<ellipse cx="968" cy="960" rx="27" ry="7" transform="rotate(-32 968 960)" fill="rgb(150,150,150)" opacity="0.8" filter="url(#fbl1)"/>
<path d="M947,973 L972,957 L990,946 L992,949 L974,962 L952,975 Z" fill="rgb(172,172,172)" filter="url(#fbl1)"/>
<ellipse cx="964" cy="961" rx="8" ry="3" transform="rotate(-32 964 961)" fill="rgb(190,190,190)" filter="url(#fbl1)"/>
<path d="M955,975 L966,962" stroke="rgb(160,160,160)" stroke-width="2" filter="url(#fbl1)"/>
<path d="M934,913 L944,926" stroke="rgb(168,168,168)" stroke-width="3.5"/>
</g>
<path d="M1193.5,958.5 A221.5,221.5 0 1 0 750.5,958.5 A221.5,221.5 0 1 0 1193.5,958.5 Z M1178.1,958.5 L1176.7,960.3 L1177.8,962.1 L1175.8,963.8 L1177.2,965.7 L1177.1,967.5 L1177.8,969.3 L1178.0,971.1 L1177.6,972.9 L1177.8,974.7 L1179.0,976.6 L1179.6,978.5 L1179.3,980.3 L1179.9,982.2 L1179.5,984.0 L1177.4,985.5 L1177.4,987.4 L1177.9,989.3 L1177.5,991.1 L1177.7,992.9 L1178.3,994.9 L1178.1,996.7 L1176.6,998.3 L1175.4,999.9 L1175.5,1001.8 L1175.5,1003.6 L1174.6,1005.3 L1174.0,1007.0 L1173.9,1008.9 L1172.6,1010.4 L1171.6,1012.0 L1172.1,1014.0 L1172.6,1016.0 L1172.4,1017.9 L1172.7,1019.9 L1172.0,1021.6 L1172.5,1023.6 L1170.7,1025.0 L1169.4,1026.5 L1168.6,1028.1 L1166.6,1029.3 L1165.5,1030.9 L1165.3,1032.7 L1162.9,1033.7 L1162.0,1035.3 L1160.9,1036.7 L1160.2,1038.4 L1159.4,1040.0 L1160.3,1042.3 L1158.6,1043.6 L1157.7,1045.1 L1157.6,1047.0 L1155.0,1047.8 L1154.2,1049.3 L1153.0,1050.7 L1153.5,1053.0 L1153.3,1054.9 L1153.1,1056.8 L1153.3,1059.0 L1151.8,1060.2 L1151.4,1062.1 L1150.3,1063.5 L1150.2,1065.6 L1148.7,1066.8 L1147.9,1068.4 L1147.0,1070.0 L1145.0,1070.8 L1143.1,1071.8 L1141.6,1072.9 L1142.6,1075.7 L1141.0,1076.8 L1140.8,1078.9 L1140.5,1080.9 L1139.9,1082.7 L1137.4,1083.1 L1137.2,1085.3 L1135.1,1085.9 L1133.8,1087.2 L1134.3,1089.9 L1132.7,1091.0 L1132.0,1092.8 L1130.0,1093.4 L1128.1,1094.2 L1126.8,1095.4 L1127.6,1098.6 L1126.2,1099.8 L1124.6,1100.8 L1122.8,1101.6 L1121.4,1102.7 L1119.7,1103.7 L1117.2,1103.7 L1115.6,1104.7 L1114.4,1105.9 L1113.5,1107.6 L1111.9,1108.5 L1110.7,1109.8 L1109.5,1111.2 L1108.2,1112.5 L1107.5,1114.4 L1106.2,1115.6 L1104.6,1116.5 L1104.0,1118.7 L1103.1,1120.4 L1100.4,1120.0 L1099.0,1121.1 L1097.0,1121.3 L1096.5,1123.7 L1095.7,1125.7 L1095.1,1128.0 L1093.0,1128.2 L1091.1,1128.6 L1090.5,1130.9 L1088.6,1131.3 L1086.4,1131.3 L1085.2,1132.7 L1083.4,1133.3 L1081.7,1134.1 L1079.8,1134.3 L1077.6,1134.3 L1076.2,1135.4 L1074.4,1135.8 L1073.5,1137.9 L1072.1,1139.1 L1071.6,1142.0 L1070.0,1142.8 L1067.6,1142.2 L1066.1,1143.2 L1063.9,1142.8 L1062.1,1143.3 L1060.3,1143.7 L1059.0,1145.0 L1057.4,1145.8 L1056.0,1147.1 L1054.4,1147.9 L1052.6,1148.4 L1050.9,1148.9 L1049.4,1150.2 L1047.8,1150.9 L1046.0,1151.4 L1044.2,1151.6 L1042.4,1151.9 L1040.8,1152.7 L1038.6,1152.0 L1037.0,1152.6 L1035.4,1153.6 L1034.1,1155.6 L1033.0,1158.0 L1031.5,1159.3 L1029.4,1158.7 L1027.9,1160.2 L1026.1,1160.4 L1024.4,1161.3 L1023.2,1164.0 L1021.3,1164.0 L1019.5,1164.3 L1017.6,1164.2 L1015.7,1164.2 L1013.9,1164.6 L1012.2,1165.3 L1010.7,1167.3 L1008.8,1167.5 L1007.1,1168.4 L1005.1,1167.8 L1003.3,1167.7 L1001.2,1166.5 L999.3,1166.1 L997.5,1166.5 L995.7,1166.9 L994.0,1167.5 L992.2,1168.0 L990.3,1168.0 L988.5,1168.3 L986.7,1168.2 L984.9,1169.2 L983.1,1169.7 L981.3,1171.4 L979.4,1170.0 L977.5,1170.4 L975.7,1169.4 L973.8,1168.2 L972.0,1167.9 L970.2,1167.4 L968.3,1168.2 L966.5,1168.8 L964.7,1168.6 L962.9,1167.0 L961.1,1167.3 L959.2,1167.8 L957.4,1167.2 L955.5,1168.3 L953.8,1166.3 L951.8,1168.0 L950.2,1166.2 L948.4,1165.5 L946.5,1166.4 L944.7,1165.6 L942.8,1165.9 L940.8,1167.0 L938.9,1167.5 L937.1,1166.8 L935.3,1166.4 L933.7,1165.3 L932.0,1164.5 L930.3,1163.2 L928.4,1163.5 L927.0,1161.6 L925.2,1161.3 L923.5,1160.4 L922.2,1158.4 L920.7,1156.8 L918.8,1156.9 L916.7,1157.7 L915.1,1156.9 L913.2,1157.0 L911.7,1155.8 L910.2,1154.4 L908.3,1154.5 L907.2,1152.2 L905.2,1152.6 L903.4,1152.3 L901.3,1152.7 L899.5,1152.5 L897.9,1151.5 L896.6,1149.9 L895.1,1148.8 L892.9,1149.4 L891.4,1148.4 L889.4,1148.5 L887.5,1148.3 L886.7,1145.7 L885.5,1144.0 L883.9,1143.2 L882.5,1142.1 L880.6,1141.7 L878.2,1142.5 L876.1,1142.8 L874.6,1141.7 L873.0,1140.9 L871.4,1140.0 L870.2,1138.5 L868.7,1137.5 L866.2,1138.1 L864.8,1136.9 L863.4,1135.8 L861.9,1134.7 L860.6,1133.3 L858.7,1133.0 L857.3,1131.7 L855.9,1130.6 L853.7,1130.6 L851.7,1130.3 L851.0,1128.1 L850.4,1125.8 L849.4,1124.2 L848.2,1122.8 L847.8,1120.4 L845.4,1120.6 L844.6,1118.7 L843.1,1117.7 L841.3,1117.0 L841.0,1114.7 L839.1,1114.1 L836.8,1114.0 L835.7,1112.6 L833.5,1112.3 L831.5,1111.8 L830.9,1109.8 L830.5,1107.6 L829.7,1105.9 L828.2,1104.8 L826.5,1104.0 L824.9,1103.0 L822.9,1102.5 L822.1,1100.8 L820.5,1099.7 L819.6,1098.1 L818.7,1096.5 L816.9,1095.7 L815.8,1094.3 L815.6,1092.1 L814.1,1091.0 L813.1,1089.5 L812.6,1087.6 L811.1,1086.5 L810.0,1085.1 L807.6,1084.6 L806.0,1083.6 L803.4,1083.2 L803.6,1080.9 L801.8,1079.9 L800.7,1078.5 L800.6,1076.3 L799.6,1074.8 L798.8,1073.2 L797.1,1072.1 L797.1,1069.9 L798.1,1067.2 L795.0,1066.9 L795.1,1064.8 L793.7,1063.5 L792.7,1062.0 L790.4,1061.2 L790.0,1059.4 L790.4,1057.1 L790.0,1055.2 L790.7,1052.9 L788.7,1051.9 L787.9,1050.3 L787.7,1048.4 L784.0,1048.2 L782.4,1046.9 L781.7,1045.2 L780.5,1043.7 L779.9,1042.0 L778.1,1040.8 L776.3,1039.6 L775.7,1037.8 L776.3,1035.6 L775.3,1034.0 L773.0,1032.9 L774.2,1030.5 L773.0,1029.0 L772.7,1027.1 L770.8,1025.8 L770.9,1023.8 L769.6,1022.3 L769.4,1020.5 L768.9,1018.7 L768.6,1016.8 L768.4,1015.0 L768.3,1013.1 L767.2,1011.5 L766.2,1009.8 L766.9,1007.7 L766.0,1006.1 L765.4,1004.3 L764.1,1002.7 L763.1,1001.0 L762.1,999.3 L761.1,997.6 L762.9,995.4 L763.4,993.4 L763.8,991.5 L765.2,989.4 L765.0,987.6 L764.8,985.8 L762.9,984.2 L764.2,982.2 L764.8,980.3 L765.6,978.4 L765.7,976.5 L765.1,974.8 L763.0,973.1 L761.9,971.4 L763.4,969.4 L763.4,967.6 L764.4,965.7 L764.1,963.9 L764.0,962.1 L762.2,960.3 L762.3,958.5 L760.9,956.7 L761.0,954.8 L761.2,953.0 L761.3,951.1 L762.1,949.3 L762.2,947.5 L763.0,945.7 L763.2,943.9 L763.2,942.1 L764.1,940.3 L766.4,938.7 L765.9,936.8 L766.7,935.1 L765.9,933.2 L764.9,931.2 L764.6,929.3 L765.4,927.6 L766.3,925.9 L767.5,924.3 L767.1,922.4 L767.9,920.7 L768.2,918.9 L769.2,917.2 L767.1,914.9 L769.2,913.5 L769.2,911.7 L770.2,910.0 L769.8,908.1 L770.4,906.4 L771.3,904.7 L771.3,902.8 L772.5,901.3 L773.9,899.8 L774.6,898.2 L776.2,896.8 L776.0,894.8 L775.4,892.7 L775.6,890.9 L775.4,888.9 L776.2,887.2 L776.1,885.3 L776.2,883.3 L777.5,881.9 L777.3,879.8 L777.6,878.0 L777.8,876.1 L778.3,874.3 L779.3,872.7 L780.3,871.1 L781.5,869.7 L781.3,867.5 L780.5,865.1 L781.8,863.7 L782.0,861.7 L784.4,860.8 L785.4,859.3 L787.0,858.1 L789.1,857.1 L790.0,855.5 L790.2,853.5 L792.5,852.8 L794.4,851.8 L793.8,849.3 L796.4,848.8 L795.7,846.2 L796.2,844.3 L796.8,842.5 L796.9,840.4 L799.6,840.0 L800.9,838.7 L802.0,837.2 L803.7,836.2 L804.2,834.4 L805.6,833.1 L807.0,831.9 L806.8,829.4 L808.6,828.6 L810.3,827.6 L812.1,826.7 L813.3,825.4 L813.5,823.2 L814.5,821.6 L816.3,820.7 L817.5,819.4 L819.1,818.4 L821.2,817.9 L822.4,816.6 L822.4,814.0 L822.6,811.7 L823.4,809.9 L823.2,807.1 L825.3,806.6 L826.4,805.0 L829.3,805.5 L830.0,803.6 L831.1,802.1 L832.4,800.7 L833.1,798.7 L836.1,799.4 L838.3,799.2 L839.1,797.3 L841.0,796.8 L842.2,795.4 L842.5,792.8 L844.8,792.8 L846.7,792.2 L848.2,791.2 L850.1,790.7 L852.2,790.5 L852.8,788.3 L854.6,787.7 L856.1,786.6 L856.5,784.1 L858.6,783.9 L859.6,782.1 L860.5,780.1 L862.4,779.7 L863.4,777.8 L865.2,777.1 L866.3,775.4 L868.8,776.1 L870.3,775.1 L872.6,775.5 L874.1,774.4 L875.7,773.5 L877.4,772.9 L878.5,770.9 L879.8,769.5 L881.3,768.2 L883.6,769.0 L885.3,768.2 L886.7,766.8 L888.4,766.2 L889.6,764.5 L891.3,763.7 L893.2,763.4 L895.3,763.7 L897.0,763.1 L898.4,761.7 L900.2,761.2 L901.7,760.0 L903.2,758.7 L905.2,758.9 L907.0,758.4 L909.1,759.1 L911.3,760.0 L913.2,760.0 L915.2,760.4 L916.7,759.0 L918.9,760.5 L920.5,759.3 L922.5,759.8 L924.1,759.0 L926.1,759.6 L927.8,759.2 L929.4,758.2 L931.1,757.6 L932.7,756.1 L934.6,756.9 L936.5,757.4 L938.3,757.1 L940.2,757.7 L941.7,756.1 L943.4,754.9 L945.1,754.4 L946.8,753.2 L948.6,753.2 L950.4,753.3 L952.3,754.0 L954.1,753.7 L955.9,753.7 L957.7,754.1 L959.4,753.2 L961.3,754.3 L963.1,755.1 L964.9,754.0 L966.6,753.8 L968.4,753.6 L970.2,752.7 L972.0,752.2 L973.8,751.6 L975.6,751.8 L977.4,752.9 L979.2,752.1 L981.0,752.3 L982.8,752.7 L984.6,751.7 L986.5,751.8 L988.2,752.7 L989.9,753.3 L991.8,753.3 L993.6,752.8 L995.4,752.8 L997.4,751.7 L999.1,752.9 L1000.6,754.7 L1002.4,755.3 L1004.1,755.9 L1005.8,756.3 L1007.7,756.3 L1009.5,756.3 L1011.5,755.5 L1013.2,756.1 L1014.8,757.0 L1016.9,755.9 L1018.6,756.4 L1020.7,755.5 L1022.9,754.3 L1024.6,754.9 L1026.5,755.1 L1027.9,757.0 L1029.8,756.8 L1031.2,758.7 L1033.2,758.3 L1035.7,756.5 L1037.1,758.0 L1038.8,758.7 L1041.0,758.2 L1042.2,760.4 L1044.3,760.0 L1045.4,762.1 L1047.5,761.7 L1048.8,763.6 L1051.0,763.1 L1052.7,763.6 L1053.6,766.3 L1054.8,768.1 L1057.3,766.9 L1058.9,767.7 L1061.2,767.3 L1063.2,767.3 L1064.6,768.7 L1065.7,770.6 L1067.7,770.8 L1068.4,773.3 L1069.9,774.4 L1071.9,774.4 L1072.7,776.8 L1074.1,778.0 L1076.4,777.6 L1076.9,780.3 L1078.9,780.7 L1080.5,781.5 L1081.6,783.1 L1083.7,783.1 L1085.3,784.1 L1086.2,786.0 L1087.4,787.4 L1088.8,788.6 L1091.0,788.5 L1092.9,789.0 L1094.1,790.4 L1097.0,789.5 L1098.7,790.4 L1100.8,790.6 L1102.0,792.1 L1103.9,792.7 L1104.2,795.2 L1106.8,795.0 L1107.9,796.5 L1109.2,797.8 L1109.7,800.1 L1111.7,800.7 L1112.1,802.9 L1113.4,804.2 L1114.7,805.5 L1116.5,806.2 L1118.6,806.7 L1119.6,808.3 L1120.8,809.7 L1121.2,811.8 L1122.3,813.4 L1123.6,814.6 L1124.7,816.1 L1126.1,817.3 L1126.6,819.3 L1129.1,819.5 L1129.9,821.2 L1130.6,823.1 L1133.6,822.9 L1135.0,824.1 L1136.3,825.5 L1137.0,827.3 L1136.5,830.0 L1137.8,831.3 L1137.6,833.7 L1138.7,835.2 L1140.7,836.0 L1141.9,837.3 L1141.7,839.7 L1143.5,840.7 L1145.3,841.6 L1145.0,844.0 L1147.3,844.6 L1147.1,846.9 L1148.3,848.3 L1150.8,848.9 L1152.1,850.3 L1151.9,852.6 L1153.4,853.8 L1153.0,856.1 L1155.0,857.0 L1155.4,858.9 L1157.3,860.0 L1159.0,861.1 L1160.2,862.6 L1160.0,864.8 L1161.1,866.3 L1160.1,868.8 L1160.2,870.8 L1159.9,872.9 L1161.3,874.2 L1159.9,876.8 L1161.2,878.2 L1161.7,879.9 L1160.5,882.3 L1161.0,884.1 L1163.1,885.1 L1164.7,886.5 L1165.1,888.2 L1166.0,889.8 L1165.8,891.8 L1164.5,894.1 L1165.2,895.7 L1165.8,897.4 L1166.5,899.0 L1167.7,900.5 L1168.1,902.3 L1168.6,904.0 L1169.6,905.6 L1169.6,907.4 L1168.6,909.5 L1170.4,910.9 L1171.3,912.5 L1170.3,914.5 L1171.4,916.1 L1171.7,917.9 L1170.4,919.9 L1171.6,921.5 L1172.2,923.2 L1173.1,924.8 L1174.9,926.4 L1176.4,927.9 L1177.0,929.7 L1177.4,931.5 L1176.6,933.4 L1178.1,935.0 L1178.5,936.8 L1177.5,938.7 L1179.3,940.4 L1178.1,942.3 L1177.9,944.1 L1178.5,945.9 L1179.4,947.6 L1178.7,949.5 L1179.2,951.3 L1179.4,953.1 L1179.8,954.9 L1178.4,956.7 Z" fill="#000" fill-rule="evenodd"/>
<g fill="none" stroke="#d8c8ff" stroke-width="1" opacity="0.35"><circle cx="972.0" cy="958.5" r="27"/><circle cx="972.0" cy="958.5" r="56"/><circle cx="972.0" cy="958.5" r="85"/><circle cx="972.0" cy="958.5" r="114"/><circle cx="972.0" cy="958.5" r="143"/><circle cx="972.0" cy="958.5" r="173"/><circle cx="972.0" cy="958.5" r="202"/><path d="M972.0,958.5L972.0,738.0M972.0,958.5L1082.2,767.5M972.0,958.5L1163.0,848.2M972.0,958.5L1192.5,958.5M972.0,958.5L1163.0,1068.8M972.0,958.5L1082.2,1149.5M972.0,958.5L972.0,1179.0M972.0,958.5L861.8,1149.5M972.0,958.5L781.0,1068.8M972.0,958.5L751.5,958.5M972.0,958.5L781.0,848.2M972.0,958.5L861.7,767.5"/></g>
</g>
<path d="M698.8,737 V1180" stroke="#000" stroke-width="2.6"/>
<path d="M698.8,754.9h-5.5M698.8,784.0h-10M698.8,813.1h-5.5M698.8,842.2h-10M698.8,871.3h-5.5M698.8,900.4h-10M698.8,929.5h-5.5M698.8,958.6h-10M698.8,987.7h-5.5M698.8,1016.8h-10M698.8,1045.9h-5.5M698.8,1075.0h-10M698.8,1104.1h-5.5M698.8,1133.2h-10M698.8,1162.3h-5.5" stroke="#000" stroke-width="2.4"/>
<text x="683.5" y="800.0" font-size="47" font-weight="normal" font-style="normal" fill="#000" text-anchor="end" font-family='"Liberation Serif", serif' >75</text>
<text x="683.5" y="858.2" font-size="47" font-weight="normal" font-style="normal" fill="#000" text-anchor="end" font-family='"Liberation Serif", serif' >50</text>
<text x="683.5" y="916.4" font-size="47" font-weight="normal" font-style="normal" fill="#000" text-anchor="end" font-family='"Liberation Serif", serif' >25</text>
<text x="683.5" y="974.6" font-size="47" font-weight="normal" font-style="normal" fill="#000" text-anchor="end" font-family='"Liberation Serif", serif' >0</text>
<text x="683.5" y="1032.8" font-size="47" font-weight="normal" font-style="normal" fill="#000" text-anchor="end" font-family='"Liberation Serif", serif' >25</text>
<text x="683.5" y="1091.0" font-size="47" font-weight="normal" font-style="normal" fill="#000" text-anchor="end" font-family='"Liberation Serif", serif' >50</text>
<text x="683.5" y="1149.2" font-size="47" font-weight="normal" font-style="normal" fill="#000" text-anchor="end" font-family='"Liberation Serif", serif' >75</text>
<text transform="translate(621.6,999) rotate(-90) scale(1.25,1)" font-size="50" font-style="italic" font-family='"Liberation Serif", serif'>χ</text>
<text transform="translate(621.6,953) rotate(-90)" font-size="50" font-family='"Liberation Serif", serif'>(°)</text>
<text x="972" y="718" font-size="47" font-weight="normal" font-style="normal" fill="#000" text-anchor="middle" font-family='"Liberation Serif", serif' >0</text>
<text x="1110" y="749.5" font-size="47" font-weight="normal" font-style="normal" fill="#000" text-anchor="middle" font-family='"Liberation Serif", serif' >30</text>
<text x="1194.5" y="834.5" font-size="47" font-weight="normal" font-style="normal" fill="#000" text-anchor="middle" font-family='"Liberation Serif", serif' >60</text>
<text x="1225" y="975" font-size="47" font-weight="normal" font-style="normal" fill="#000" text-anchor="middle" font-family='"Liberation Serif", serif' >90</text>
<text x="1208" y="1116" font-size="47" font-weight="normal" font-style="normal" fill="#000" text-anchor="middle" font-family='"Liberation Serif", serif' >120</text>
<text x="1122" y="1198" font-size="47" font-weight="normal" font-style="normal" fill="#000" text-anchor="middle" font-family='"Liberation Serif", serif' >150</text>
<text x="972" y="1228" font-size="47" font-weight="normal" font-style="normal" fill="#000" text-anchor="middle" font-family='"Liberation Serif", serif' >180</text>
<text x="821.5" y="1198" font-size="47" font-weight="normal" font-style="normal" fill="#000" text-anchor="middle" font-family='"Liberation Serif", serif' >210</text>
<text x="737" y="1115" font-size="47" font-weight="normal" font-style="normal" fill="#000" text-anchor="middle" font-family='"Liberation Serif", serif' >240</text>
<text x="738.6" y="833" font-size="47" font-weight="normal" font-style="normal" fill="#000" text-anchor="middle" font-family='"Liberation Serif", serif' >300</text>
<text x="822" y="749.5" font-size="47" font-weight="normal" font-style="normal" fill="#000" text-anchor="middle" font-family='"Liberation Serif", serif' >330</text>
<path d="M980.6,676 Q1050,677 1111,703" fill="none" stroke="#000" stroke-width="4.5"/>
<path d="M1095,681 L1112,703.5 L1083,706.5" fill="none" stroke="#000" stroke-width="4.5" stroke-linecap="round"/>
<text x="1134" y="704" font-size="46" font-style="italic" font-weight="bold" font-family='"Liberation Serif", serif'>ϕ</text>
<text x="1172.6" y="705.2" font-size="49.5" font-family='"Liberation Serif", serif'>(°)</text>
<text x="622" y="677" font-size="62" font-weight="bold" font-style="normal" fill="#000" text-anchor="start" font-family='"Liberation Serif", serif' >c</text>
<text x="952.5" y="903" font-size="49" font-weight="bold" fill="#fff" font-family='"Liberation Sans", sans-serif'>(104)</text>
<text x="803" y="1012.5" font-size="49" font-weight="bold" fill="#fff" font-family='"Liberation Sans", sans-serif'>(114)</text>
<text x="1031.5" y="1061" font-size="49" font-weight="bold" fill="#fff" font-family='"Liberation Sans", sans-serif'>(014)</text>
<path d="M1106,1017 h21" stroke="#fff" stroke-width="3.5"/>
<polygon points="162,1503 414,1662 414,1773 162,1612" fill="#1f1f1f" stroke="#1f1f1f" stroke-width="1"/>
<polygon points="414,1662 1154,1554 1154,1662 414,1773" fill="#3b3b3b" stroke="#3b3b3b" stroke-width="1"/>
<polygon points="162,1391 414,1551 414,1662 162,1503" fill="#37506f" stroke="#37506f" stroke-width="1"/>
<polygon points="414,1551 1154,1440 1154,1554 414,1662" fill="#6591cb" stroke="#6591cb" stroke-width="1"/>
<polygon points="162,1391 900,1280 1154,1440 414,1551" fill="#6a96d3" stroke="#6a96d3" stroke-width="0.8" stroke-linejoin="round"/>
<path d="M834,1282 V1379 L672,1406" fill="none" stroke="#2e2e2e" stroke-width="5" stroke-dasharray="5 5"/>
<path d="M482,1442 V1500" fill="none" stroke="#2e2e2e" stroke-width="5" stroke-dasharray="5 5"/>
<path d="M614,1431 L650,1446 L683,1425" fill="none" stroke="#2e2e2e" stroke-width="5" stroke-dasharray="5 5"/>
<path d="M657,1382 L687,1395 V1426" fill="none" stroke="#5a0010" stroke-width="5" stroke-dasharray="5 6"/>
<path d="M650,1412 L421.5,1544.0" stroke="#ffffff" stroke-width="9" stroke-linecap="butt" fill="none"/>
<path d="M441.6,1506.9 L418.0,1546.0 L463.6,1545.0" stroke="#ffffff" stroke-width="9" stroke-linecap="round" stroke-linejoin="miter" stroke-miterlimit="6" fill="none"/>
<path d="M650,1410 L489.9,1437.3" stroke="#f5a8a3" stroke-width="11" stroke-linecap="butt" fill="none"/>
<path d="M523.7,1409.2 L486.0,1438.0 L531.1,1452.6" stroke="#f5a8a3" stroke-width="11" stroke-linecap="round" stroke-linejoin="miter" stroke-miterlimit="6" fill="none"/>
<path d="M648,1407 L648.0,1253.0" stroke="#ff0000" stroke-width="11" stroke-linecap="butt" fill="none"/>
<path d="M670.0,1289.0 L648.0,1249.0 L626.0,1289.0" stroke="#ff0000" stroke-width="11" stroke-linecap="round" stroke-linejoin="miter" stroke-miterlimit="6" fill="none"/>
<path d="M650,1410 L784.3,1462.5" stroke="#ffc000" stroke-width="11" stroke-linecap="butt" fill="none"/>
<path d="M742.7,1469.9 L788.0,1464.0 L758.8,1428.9" stroke="#ffc000" stroke-width="11" stroke-linecap="round" stroke-linejoin="miter" stroke-miterlimit="6" fill="none"/>
<path d="M650,1411 L822.7,1287.3" stroke="#00c864" stroke-width="11" stroke-linecap="butt" fill="none"/>
<path d="M805.8,1329.0 L826.0,1285.0 L777.9,1289.9" stroke="#00c864" stroke-width="11" stroke-linecap="round" stroke-linejoin="miter" stroke-miterlimit="6" fill="none"/>
<path d="M642,1325 C606,1326 578,1350 576,1396" fill="none" stroke="#333" stroke-width="6.4"/>
<path d="M564,1394 L575.2,1414 L587,1394 Z" fill="#333" stroke="#333" stroke-width="2" stroke-linejoin="round"/>
<path d="M652,1342 C668,1343 682,1350 688,1362" fill="none" stroke="#333" stroke-width="6.4"/>
<path d="M678,1362 L696,1371 L697,1350 Z" fill="#333" stroke="#333" stroke-width="2" stroke-linejoin="round"/>
<text transform="translate(513,1380) scale(1.0,1)" font-size="45" font-weight="bold" font-style="normal" fill="#333" font-family='"Liberation Serif", serif'>82°</text>
<text transform="translate(668,1343.2) scale(1.0,1)" font-size="45" font-weight="bold" font-style="normal" fill="#333" font-family='"Liberation Serif", serif'>48°</text>
<text transform="translate(434.5,1482) scale(1.0,1)" font-size="43" font-weight="bold" font-style="normal" fill="#333" font-family='"Liberation Serif", serif'>6°</text>
<text transform="translate(488.5,1279.4) scale(1.075,1)" font-size="52" font-weight="bold" font-style="normal" fill="#ee0000" font-family='"Liberation Serif", serif'>(012)</text>
<text transform="translate(698.5,1261.2) scale(1.075,1)" font-size="52" font-weight="bold" font-style="normal" fill="#00bb5e" font-family='"Liberation Serif", serif'>(104)</text>
<text transform="translate(345.5,1425.5) scale(1.08,1)" font-size="50" font-weight="bold" font-style="normal" fill="#f5a8a3" font-family='"Liberation Serif", serif'>(014)</text>
<path d="M421.6,1379.2 h29" stroke="#f5a8a3" stroke-width="4.8"/>
<text transform="translate(797.5,1450.4) scale(1.05,1)" font-size="51" font-weight="bold" font-style="normal" fill="#ffc000" font-family='"Liberation Serif", serif'>(210)</text>
<text transform="translate(918.5,1450.4) scale(1.0,1)" font-size="51" font-weight="bold" font-style="normal" fill="#ffc000" font-family='"Liberation Serif", serif'>,</text>
<text transform="translate(950,1450.4) scale(1.0,1)" font-size="51" font-weight="bold" font-style="italic" fill="#ffc000" font-family='"Liberation Serif", serif'>ϕ</text>
<text transform="translate(987,1450.4) scale(1.05,1)" font-size="51" font-weight="bold" font-style="normal" fill="#ffc000" font-family='"Liberation Serif", serif'>=</text>
<text transform="translate(1037,1450.4) scale(1.05,1)" font-size="51" font-weight="bold" font-style="normal" fill="#ffc000" font-family='"Liberation Serif", serif'>90°</text>
<path d="M843,1404.2 h32" stroke="#ffc000" stroke-width="5.6"/>
<text transform="translate(488,1562) scale(1.05,1)" font-size="51" font-weight="bold" font-style="normal" fill="#ffffff" font-family='"Liberation Serif", serif'>(015)</text>
<text transform="translate(607.5,1562) scale(1.0,1)" font-size="51" font-weight="bold" font-style="normal" fill="#ffffff" font-family='"Liberation Serif", serif'>,</text>
<text transform="translate(639,1562) scale(1.0,1)" font-size="51" font-weight="bold" font-style="italic" fill="#ffffff" font-family='"Liberation Serif", serif'>ϕ</text>
<text transform="translate(679,1562) scale(1.05,1)" font-size="51" font-weight="bold" font-style="normal" fill="#ffffff" font-family='"Liberation Serif", serif'>=</text>
<text transform="translate(726,1562) scale(1.05,1)" font-size="51" font-weight="bold" font-style="normal" fill="#ffffff" font-family='"Liberation Serif", serif'>0°</text>
<path d="M560.6,1514.2 h28.4" stroke="#ffffff" stroke-width="5.6"/>
<text x="14" y="1310" font-size="62" font-weight="bold" font-style="normal" fill="#000" text-anchor="start" font-family='"Liberation Serif", serif' >d</text>
<text x="20" y="1467" font-size="56" font-family='"Liberation Serif", serif'>V<tspan font-size="34" dy="12">2</tspan><tspan dy="-12">O</tspan><tspan font-size="34" dy="12">3</tspan></text>
<text x="27" y="1578" font-size="56" font-family='"Liberation Serif", serif'>Al<tspan font-size="34" dy="12">2</tspan><tspan dy="-12">O</tspan><tspan font-size="34" dy="12">3</tspan></text>
</svg>
</body></html>
